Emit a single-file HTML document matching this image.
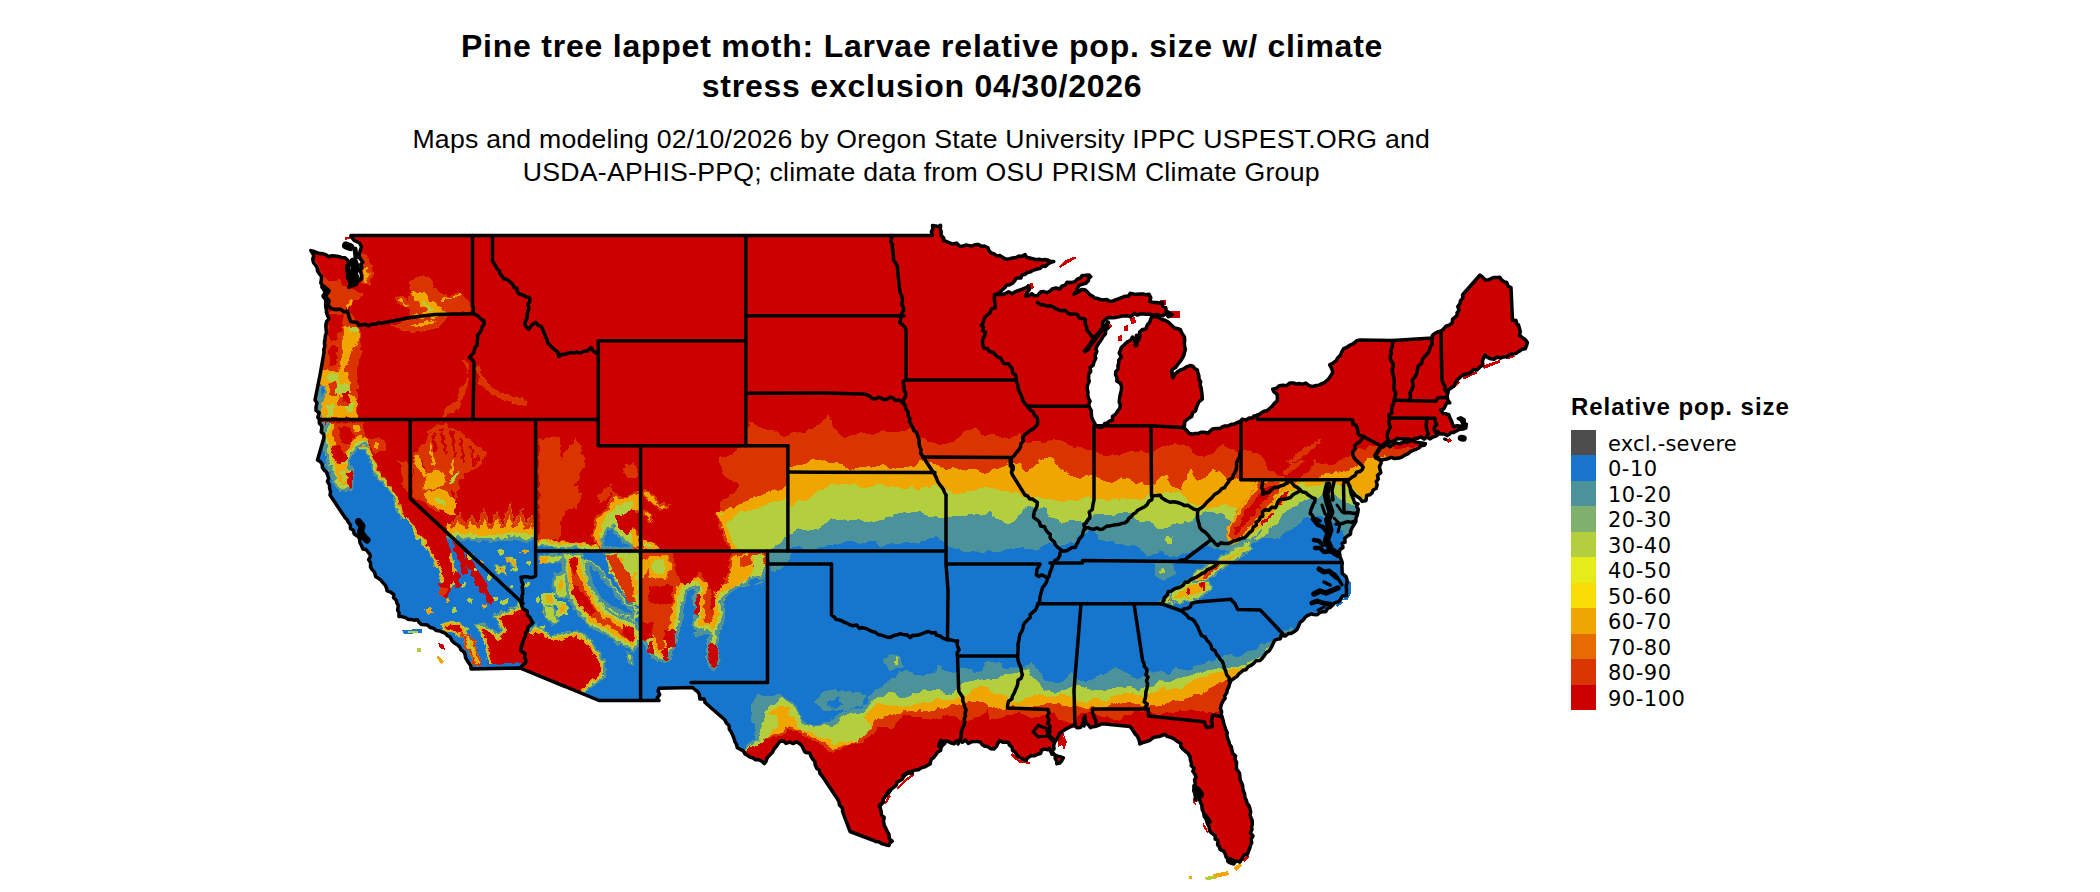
<!DOCTYPE html>
<html lang="en"><head><meta charset="utf-8"><title>Pine tree lappet moth: Larvae relative pop. size</title>
<style>
html,body{margin:0;padding:0;background:#fff}
body{width:2100px;height:892px;position:relative;overflow:hidden;font-family:"Liberation Sans",sans-serif;color:#000}
.t{position:absolute;left:0;width:1842.6px;text-align:center;white-space:nowrap}
.t1{font-weight:bold;font-size:32px;line-height:40px;letter-spacing:0.77px;margin-left:0.8px}
.t2{font-size:26.67px;line-height:34px;letter-spacing:0.235px}
.lt{position:absolute;left:1571px;top:392px;font-weight:bold;font-size:24px;line-height:30px;letter-spacing:0.97px;white-space:nowrap}
.sw{position:absolute;left:1571px;width:25px}
.ll{position:absolute;left:1608px;height:25.4px;line-height:25.4px;font-family:"DejaVu Sans",sans-serif;font-size:21px;letter-spacing:0.5px;white-space:nowrap}
</style></head><body>
<div class="t t1" style="top:25.7px">Pine tree lappet moth: Larvae relative pop. size w/ climate</div>
<div class="t t1" style="top:66px">stress exclusion 04/30/2026</div>
<div class="t t2" style="top:121.7px">Maps and modeling 02/10/2026 by Oregon State University IPPC USPEST.ORG and</div>
<div class="t t2" style="top:154.5px">USDA-APHIS-PPQ; climate data from OSU PRISM Climate Group</div>
<svg width="2100" height="892" viewBox="0 0 2100 892" style="position:absolute;left:0;top:0">
<defs>
<clipPath id="us"><path d="M351.0 235.5 L932.5 235.5 L931.4 231.7 L932.8 228.9 L932.5 225.6 L935.5 225.9 L938.5 226.5 L940.6 225.3 L940.3 229.1 L941.2 231.3 L941.1 235.3 L943.7 238.0 L943.7 240.5 L946.7 241.6 L949.7 242.8 L952.5 244.0 L956.5 243.1 L959.4 246.0 L962.5 246.2 L966.2 245.0 L969.4 245.6 L971.7 246.0 L974.7 244.8 L977.9 244.4 L981.6 246.4 L984.4 246.0 L988.0 247.8 L989.0 250.8 L991.0 253.0 L993.9 253.6 L996.9 256.0 L999.8 255.6 L1003.0 257.5 L1005.8 259.3 L1009.7 258.6 L1012.4 258.0 L1016.1 257.5 L1018.8 256.1 L1021.7 256.4 L1025.1 254.6 L1026.8 257.5 L1030.4 258.1 L1032.8 258.8 L1036.1 259.7 L1039.2 259.2 L1042.0 259.9 L1044.6 259.5 L1048.3 260.3 L1050.6 261.6 L1053.8 261.6 L1051.1 262.2 L1048.0 263.9 L1045.4 266.4 L1042.5 266.1 L1040.1 268.4 L1036.5 269.2 L1033.5 270.1 L1030.7 271.7 L1027.3 272.5 L1024.7 274.5 L1022.0 275.0 L1020.9 278.1 L1016.7 277.9 L1014.5 281.0 L1012.5 283.3 L1009.8 284.7 L1006.4 285.4 L1004.6 287.9 L1002.0 290.0 L999.9 292.4 L998.1 293.5 L994.5 294.8 L997.9 294.4 L1001.5 294.5 L1005.1 293.6 L1008.6 291.8 L1012.2 293.7 L1015.2 291.6 L1018.0 290.6 L1022.4 289.2 L1026.1 287.5 L1028.5 286.1 L1029.4 289.5 L1026.7 293.2 L1025.6 296.0 L1029.1 295.6 L1031.8 293.7 L1034.5 295.8 L1037.7 295.4 L1040.5 292.1 L1043.7 291.6 L1047.2 292.7 L1050.1 290.9 L1052.1 289.0 L1055.9 288.0 L1059.9 289.0 L1061.8 286.2 L1065.2 285.1 L1067.0 282.3 L1071.8 282.4 L1074.9 281.6 L1077.2 279.2 L1080.4 278.0 L1082.3 275.4 L1085.5 275.3 L1089.1 275.0 L1090.7 276.7 L1088.7 278.3 L1088.4 280.8 L1085.6 283.4 L1082.3 284.2 L1079.2 285.4 L1077.9 287.4 L1076.6 290.7 L1074.0 294.3 L1077.0 292.5 L1079.1 291.6 L1081.3 289.4 L1085.0 289.8 L1087.7 292.3 L1089.8 294.7 L1092.8 296.3 L1094.4 297.9 L1097.2 298.3 L1100.4 299.5 L1102.9 299.9 L1106.7 299.4 L1109.3 301.2 L1112.0 301.3 L1115.4 299.9 L1119.0 298.6 L1121.9 297.5 L1125.1 296.2 L1128.4 296.3 L1130.3 293.3 L1133.3 294.0 L1137.0 294.2 L1139.6 294.1 L1143.2 293.9 L1146.0 294.8 L1149.1 294.3 L1150.8 297.8 L1149.6 301.4 L1153.3 302.4 L1156.3 302.4 L1159.8 302.9 L1162.4 302.6 L1162.8 306.3 L1165.8 307.7 L1166.2 310.7 L1169.3 312.9 L1172.2 314.7 L1168.6 316.8 L1165.9 313.5 L1162.7 315.7 L1159.8 315.9 L1157.2 314.6 L1153.3 315.2 L1150.1 314.3 L1146.3 314.2 L1143.9 314.0 L1140.3 313.7 L1137.5 315.1 L1134.2 313.4 L1130.8 316.7 L1127.8 315.8 L1125.4 316.0 L1122.2 316.0 L1118.7 316.9 L1115.5 317.5 L1112.5 317.8 L1108.2 317.4 L1104.8 319.9 L1102.5 322.5 L1102.9 327.8 L1100.5 330.0 L1098.5 332.9 L1096.5 335.2 L1094.2 338.1 L1092.5 339.9 L1090.5 343.1 L1089.4 346.2 L1087.5 348.0 L1085.0 350.9 L1088.5 349.7 L1089.2 345.3 L1091.6 342.9 L1094.6 340.7 L1094.4 336.6 L1098.7 334.6 L1099.6 332.3 L1102.6 330.7 L1104.3 327.0 L1106.3 325.0 L1107.9 322.1 L1106.8 324.5 L1108.0 327.8 L1105.7 330.1 L1105.4 334.0 L1103.0 336.5 L1101.6 339.3 L1099.3 342.4 L1097.6 345.0 L1095.8 348.6 L1096.9 351.6 L1095.0 355.5 L1095.8 358.5 L1094.2 361.5 L1093.0 365.4 L1090.0 367.5 L1090.8 371.4 L1088.7 374.2 L1088.6 378.6 L1089.2 381.4 L1087.4 385.2 L1087.2 388.6 L1088.0 392.2 L1087.8 395.0 L1088.6 398.6 L1090.1 401.2 L1088.6 404.6 L1089.6 407.5 L1091.4 410.8 L1091.3 413.5 L1091.7 417.5 L1093.0 420.4 L1094.3 422.6 L1096.2 426.2 L1100.3 427.3 L1102.9 426.7 L1104.6 423.6 L1107.0 423.2 L1109.4 421.2 L1112.5 420.2 L1112.5 416.4 L1115.7 414.1 L1117.2 411.7 L1119.7 408.3 L1120.4 405.1 L1119.2 402.0 L1119.6 398.4 L1120.0 395.6 L1120.7 392.7 L1121.3 390.3 L1121.7 386.5 L1120.3 383.3 L1116.8 381.1 L1117.0 377.7 L1115.6 374.8 L1115.7 371.9 L1118.1 369.0 L1117.9 365.9 L1118.7 362.9 L1118.8 360.2 L1121.3 357.1 L1119.2 353.0 L1120.3 350.4 L1121.2 347.8 L1123.5 345.6 L1125.8 343.3 L1127.5 341.8 L1130.5 340.4 L1132.4 337.1 L1134.3 339.8 L1136.0 342.5 L1139.0 339.3 L1140.0 335.5 L1139.6 332.1 L1142.7 329.4 L1145.9 328.9 L1147.5 324.7 L1149.7 322.3 L1150.9 318.4 L1152.4 316.0 L1155.8 316.8 L1159.1 317.6 L1161.8 319.5 L1164.8 320.2 L1167.3 321.5 L1169.5 323.1 L1171.9 325.6 L1174.7 328.0 L1178.0 328.7 L1180.4 329.6 L1182.1 333.6 L1184.4 336.8 L1184.7 340.0 L1184.3 343.5 L1184.7 346.6 L1185.4 349.4 L1184.5 352.2 L1184.0 354.7 L1182.9 357.2 L1181.2 360.2 L1179.1 362.7 L1177.5 364.8 L1175.6 367.5 L1173.4 368.7 L1171.5 370.5 L1171.7 373.3 L1172.9 377.8 L1174.6 374.4 L1177.3 372.0 L1180.1 370.1 L1183.7 368.8 L1186.4 366.8 L1190.5 365.4 L1193.2 366.4 L1194.6 368.4 L1197.4 370.1 L1197.8 372.5 L1198.8 375.5 L1199.1 379.2 L1200.7 381.7 L1200.0 384.7 L1201.2 388.1 L1201.6 391.2 L1202.1 395.3 L1202.3 399.2 L1199.1 401.6 L1197.3 405.3 L1196.4 407.7 L1195.6 410.7 L1192.5 412.7 L1191.8 416.5 L1189.7 417.6 L1186.3 420.1 L1184.6 422.1 L1184.5 425.6 L1182.3 427.8 L1184.8 428.5 L1186.9 430.7 L1189.1 433.3 L1192.7 434.2 L1195.2 433.4 L1198.7 433.4 L1201.4 432.2 L1204.3 432.3 L1207.9 433.2 L1209.9 431.3 L1212.4 429.1 L1216.4 428.5 L1219.7 428.6 L1221.8 427.1 L1224.9 425.9 L1228.1 425.9 L1231.5 424.3 L1234.4 424.0 L1236.8 422.7 L1240.3 421.4 L1242.3 419.1 L1246.2 420.0 L1248.9 418.1 L1252.4 418.1 L1254.0 415.9 L1257.5 415.3 L1260.9 413.3 L1264.0 411.3 L1266.7 410.8 L1270.1 408.2 L1272.6 405.7 L1274.4 403.3 L1277.3 400.8 L1277.4 397.3 L1277.0 394.0 L1273.9 391.9 L1272.7 389.2 L1276.5 388.3 L1279.2 385.8 L1282.9 385.3 L1286.6 385.7 L1289.6 383.0 L1293.3 383.0 L1296.4 384.0 L1299.9 383.6 L1302.9 384.2 L1305.8 383.0 L1308.7 385.4 L1312.4 386.6 L1314.6 385.8 L1318.8 385.2 L1321.3 383.9 L1324.9 382.3 L1327.9 379.5 L1329.2 378.1 L1330.9 375.4 L1332.7 372.6 L1331.9 368.9 L1329.7 364.8 L1332.8 363.2 L1336.0 360.9 L1337.6 358.0 L1340.4 355.4 L1341.7 352.0 L1343.7 348.7 L1346.8 347.3 L1349.5 345.4 L1353.5 343.6 L1356.3 340.9 L1360.0 340.0 L1392.5 340.5 L1432.5 338.0 L1432.3 335.5 L1434.6 333.6 L1437.9 331.8 L1440.9 331.3 L1443.5 329.0 L1446.0 326.2 L1449.8 324.8 L1452.2 322.7 L1452.6 319.1 L1454.2 317.8 L1457.1 315.3 L1457.0 312.8 L1459.1 310.3 L1457.8 306.6 L1459.9 303.7 L1460.4 300.8 L1462.9 297.8 L1462.5 295.0 L1480.0 275.0 L1482.6 277.1 L1485.3 279.9 L1488.4 279.8 L1490.6 278.9 L1493.4 277.5 L1497.3 277.6 L1499.8 277.3 L1501.7 280.0 L1504.4 281.9 L1506.8 282.5 L1508.0 286.2 L1511.0 287.5 L1512.5 320.0 L1516.1 320.5 L1516.6 323.9 L1518.5 324.9 L1519.5 328.4 L1520.3 331.6 L1519.5 335.5 L1522.5 337.7 L1525.2 339.4 L1527.4 342.5 L1526.5 345.7 L1525.2 348.8 L1522.0 349.3 L1518.5 351.7 L1516.2 353.4 L1512.7 354.1 L1509.6 354.6 L1507.3 356.4 L1503.8 356.9 L1500.4 358.2 L1497.0 357.0 L1493.9 359.3 L1489.7 358.6 L1486.9 356.9 L1484.9 355.0 L1483.5 358.2 L1482.4 361.1 L1482.9 364.8 L1479.9 367.0 L1476.9 370.1 L1473.4 369.5 L1471.8 371.8 L1468.6 373.6 L1464.8 374.2 L1462.0 375.6 L1459.4 378.1 L1457.4 379.7 L1455.3 382.9 L1454.0 385.7 L1452.0 387.5 L1448.5 389.7 L1448.0 392.5 L1447.1 396.4 L1447.9 400.1 L1449.7 402.8 L1446.8 403.0 L1445.0 406.4 L1443.7 408.8 L1440.9 409.9 L1443.0 413.6 L1445.5 413.7 L1448.8 414.6 L1449.8 417.7 L1451.5 420.8 L1452.3 423.5 L1453.6 426.7 L1457.2 425.7 L1461.1 426.2 L1464.2 424.5 L1464.2 419.8 L1460.7 417.8 L1458.4 418.7 L1460.8 419.7 L1462.8 423.3 L1466.4 424.1 L1465.8 428.0 L1462.7 429.0 L1459.0 429.5 L1456.1 431.1 L1453.6 432.6 L1450.8 432.6 L1449.5 434.0 L1447.2 435.6 L1444.4 433.9 L1440.9 434.1 L1438.6 432.6 L1437.3 431.3 L1438.2 434.3 L1436.4 435.9 L1433.0 437.0 L1430.1 438.9 L1426.7 437.0 L1424.1 439.1 L1421.1 436.8 L1417.4 438.3 L1414.7 438.6 L1411.4 440.2 L1408.0 438.8 L1404.1 438.9 L1400.5 438.7 L1397.4 438.5 L1395.3 440.1 L1392.3 441.4 L1389.3 442.4 L1386.5 442.9 L1384.6 444.2 L1380.9 446.3 L1378.7 448.9 L1377.4 451.6 L1375.0 455.1 L1375.6 458.0 L1378.4 459.2 L1381.2 460.5 L1381.1 463.3 L1379.4 466.6 L1380.2 470.1 L1380.8 472.7 L1377.5 475.4 L1378.3 478.9 L1376.3 481.6 L1377.2 484.8 L1376.1 488.5 L1373.1 490.0 L1372.3 492.6 L1370.0 494.7 L1366.7 495.4 L1366.0 500.5 L1362.2 501.4 L1360.0 498.5 L1357.8 497.0 L1355.4 495.4 L1353.1 492.4 L1351.0 489.8 L1349.9 487.1 L1348.7 484.7 L1348.2 482.5 L1345.7 479.7 L1348.0 482.9 L1350.0 486.3 L1350.4 490.1 L1351.3 494.3 L1352.7 497.3 L1353.9 500.3 L1354.7 502.9 L1358.0 504.0 L1356.5 506.2 L1358.3 509.4 L1357.8 512.1 L1357.2 515.2 L1356.0 518.0 L1355.9 521.4 L1354.2 524.4 L1352.5 526.9 L1350.8 530.4 L1350.5 534.0 L1347.1 536.4 L1344.7 538.3 L1345.1 542.1 L1342.2 543.4 L1343.0 547.5 L1340.2 549.5 L1339.5 551.3 L1338.7 554.0 L1340.0 556.8 L1341.3 559.9 L1342.3 562.8 L1341.9 566.1 L1342.1 570.4 L1342.2 573.4 L1345.8 576.3 L1347.0 579.9 L1347.1 582.7 L1346.0 585.9 L1346.6 589.2 L1346.5 591.9 L1346.4 595.6 L1342.4 596.1 L1341.0 598.9 L1338.8 601.6 L1335.0 602.6 L1333.0 604.8 L1330.4 607.3 L1327.6 608.4 L1325.7 611.7 L1322.5 611.7 L1320.3 612.2 L1317.3 614.8 L1313.5 614.5 L1311.4 613.9 L1308.0 615.3 L1305.3 617.1 L1303.0 620.2 L1300.3 622.1 L1298.7 625.7 L1297.0 629.4 L1294.9 631.3 L1291.0 633.5 L1288.3 633.6 L1285.1 636.0 L1281.1 635.2 L1280.4 638.7 L1276.8 639.3 L1274.5 640.6 L1272.9 644.1 L1271.6 646.9 L1269.3 650.7 L1266.1 652.8 L1264.5 655.4 L1262.0 658.6 L1260.1 660.4 L1255.9 660.8 L1253.7 663.3 L1250.7 665.7 L1248.1 666.7 L1245.9 669.8 L1243.1 670.2 L1241.3 672.0 L1238.6 674.2 L1236.8 676.6 L1234.0 678.4 L1230.8 680.9 L1229.5 684.2 L1228.9 686.6 L1227.2 689.9 L1226.9 692.6 L1224.6 695.9 L1225.1 698.5 L1222.9 701.2 L1221.4 704.3 L1220.4 708.5 L1221.6 711.7 L1221.2 715.0 L1222.3 717.9 L1223.3 720.9 L1223.9 724.0 L1224.8 726.5 L1225.9 730.0 L1227.2 732.8 L1226.9 735.5 L1227.8 739.0 L1228.9 741.4 L1229.5 744.3 L1231.4 747.0 L1231.8 749.7 L1232.8 753.4 L1235.6 756.1 L1234.8 759.2 L1236.6 762.2 L1236.4 765.1 L1236.4 768.6 L1237.9 770.9 L1239.5 773.0 L1239.9 776.4 L1240.0 779.4 L1241.4 782.4 L1242.6 785.1 L1242.8 788.3 L1243.4 791.0 L1244.6 793.8 L1244.9 797.3 L1246.4 800.4 L1247.1 803.4 L1249.0 805.9 L1249.9 808.6 L1250.7 811.9 L1250.0 815.3 L1251.1 818.0 L1252.2 820.4 L1252.3 824.4 L1251.6 827.0 L1252.0 829.6 L1250.3 832.8 L1253.0 836.0 L1251.1 839.4 L1251.7 842.7 L1250.5 845.1 L1249.8 848.1 L1248.4 851.5 L1247.4 854.4 L1244.2 854.9 L1242.2 858.3 L1239.9 862.0 L1237.0 861.1 L1233.1 862.3 L1229.7 862.5 L1228.8 859.7 L1226.2 857.3 L1225.2 854.0 L1223.6 851.1 L1220.0 849.4 L1219.6 847.0 L1217.6 844.8 L1217.8 840.4 L1215.2 839.2 L1215.1 835.6 L1211.6 833.0 L1209.5 830.7 L1209.2 827.2 L1207.7 824.0 L1206.6 821.2 L1206.3 818.2 L1204.2 815.6 L1203.6 812.5 L1202.1 809.2 L1201.8 805.2 L1200.5 802.4 L1199.3 798.6 L1198.9 796.1 L1195.8 793.0 L1196.1 789.6 L1194.8 787.0 L1195.3 783.7 L1194.5 780.1 L1196.1 777.0 L1194.9 774.2 L1192.8 771.3 L1194.2 768.4 L1191.2 765.8 L1191.5 762.8 L1190.4 760.1 L1190.1 756.9 L1188.1 753.5 L1185.8 751.6 L1182.9 749.0 L1180.8 746.5 L1180.9 743.5 L1177.0 741.3 L1175.0 739.5 L1172.9 738.2 L1170.5 737.3 L1167.1 736.4 L1164.8 734.3 L1161.7 735.6 L1158.9 736.6 L1155.4 736.9 L1152.5 738.1 L1150.0 740.3 L1147.1 741.3 L1142.8 742.7 L1139.8 744.0 L1139.3 740.6 L1137.3 736.0 L1135.2 734.2 L1133.8 731.8 L1132.1 729.0 L1130.0 726.5 L1105.0 724.0 L1102.0 723.7 L1098.5 725.4 L1096.2 726.2 L1092.9 726.7 L1090.5 727.7 L1088.5 725.0 L1086.0 723.2 L1085.6 720.6 L1083.6 718.1 L1083.4 721.0 L1082.1 724.9 L1080.4 727.5 L1076.9 727.7 L1074.9 725.0 L1072.3 726.0 L1069.1 727.5 L1066.3 728.8 L1062.8 731.1 L1059.5 733.3 L1058.2 736.5 L1056.5 739.8 L1054.7 742.2 L1053.6 745.7 L1054.1 748.8 L1051.7 751.5 L1051.6 754.0 L1054.4 754.7 L1057.6 756.1 L1060.2 756.7 L1063.3 757.9 L1061.9 760.5 L1059.7 763.1 L1056.6 763.7 L1056.9 761.4 L1055.2 758.6 L1055.2 755.2 L1053.2 753.1 L1051.0 752.0 L1049.6 748.4 L1047.9 749.8 L1044.3 749.1 L1041.5 750.2 L1040.7 753.3 L1037.0 754.5 L1034.6 755.8 L1031.2 755.6 L1027.9 757.7 L1026.1 760.4 L1023.2 759.1 L1019.9 757.6 L1017.2 755.5 L1015.1 752.0 L1012.6 750.5 L1012.1 747.3 L1009.3 744.9 L1008.4 742.4 L1004.9 741.9 L1002.6 742.2 L999.8 740.6 L997.9 743.2 L996.6 746.1 L994.2 748.9 L990.9 748.7 L987.8 746.6 L984.8 746.2 L982.3 744.7 L980.5 742.3 L978.2 741.4 L974.9 741.6 L971.8 741.7 L968.3 743.5 L965.5 740.0 L962.3 742.3 L959.3 740.6 L956.2 741.2 L954.0 743.8 L951.5 743.1 L948.1 741.4 L944.3 741.0 L943.4 744.5 L941.4 746.7 L940.5 750.5 L937.5 752.2 L935.9 754.6 L933.7 757.5 L931.0 759.5 L930.2 763.9 L927.6 765.3 L924.8 766.9 L921.2 767.8 L918.4 769.8 L915.4 770.0 L912.4 771.2 L910.5 772.7 L906.8 772.9 L904.0 776.0 L902.4 779.2 L899.7 780.7 L897.3 781.9 L895.9 785.7 L893.4 787.5 L890.8 789.7 L889.1 792.5 L887.0 794.7 L884.8 797.1 L883.0 799.4 L883.3 802.4 L880.1 804.7 L880.1 807.4 L881.1 811.2 L881.6 815.1 L884.2 817.5 L883.5 821.0 L884.2 825.3 L885.8 828.2 L887.1 831.1 L889.0 834.3 L889.4 838.8 L892.2 841.2 L889.7 843.1 L889.1 845.4 L886.1 844.9 L882.3 843.9 L878.7 841.7 L875.5 841.4 L872.5 840.0 L850.0 831.5 L842.5 811.5 L842.6 808.2 L839.4 805.0 L839.1 802.3 L837.5 799.0 L822.5 776.5 L820.0 773.6 L819.3 770.1 L816.9 768.6 L815.1 764.7 L814.9 761.7 L812.7 759.2 L810.9 756.4 L810.1 753.3 L805.1 752.2 L803.6 749.6 L802.4 746.6 L800.2 744.1 L796.3 741.7 L793.4 743.6 L789.8 742.1 L785.9 743.4 L783.6 741.0 L780.2 741.2 L777.5 744.5 L776.3 746.5 L773.8 749.2 L772.7 752.1 L769.8 755.1 L767.2 757.8 L766.0 761.4 L764.3 763.6 L761.9 761.2 L758.7 759.6 L755.2 759.7 L753.1 758.0 L750.0 757.1 L747.3 755.2 L745.1 754.0 L743.1 750.7 L740.2 749.3 L737.3 747.8 L736.6 744.6 L734.9 741.7 L733.9 738.1 L732.6 735.0 L731.0 731.5 L729.4 729.5 L729.0 725.6 L726.3 723.0 L725.0 720.0 L705.0 702.5 L704.2 699.1 L699.9 699.1 L699.3 694.2 L697.6 691.4 L695.4 690.0 L692.5 687.5 L659.0 688.3 L658.1 690.9 L659.7 694.6 L657.2 697.9 L659.0 700.5 L599.0 700.5 L520.0 668.0 L471.0 669.0 L470.9 666.1 L469.0 663.2 L467.1 660.4 L465.5 657.6 L465.0 654.1 L463.9 651.9 L460.9 649.8 L459.9 647.3 L457.6 645.1 L454.6 643.1 L452.0 640.7 L450.0 637.0 L447.2 635.5 L445.5 633.3 L442.4 632.2 L440.0 631.0 L436.1 630.5 L433.6 628.3 L430.2 627.5 L427.5 624.9 L425.5 624.8 L421.7 624.6 L419.2 622.5 L417.4 619.8 L414.4 620.3 L411.2 619.4 L408.5 619.6 L405.6 617.6 L401.7 616.6 L398.9 616.4 L399.1 612.8 L397.6 610.1 L398.4 605.6 L397.0 603.3 L396.3 600.3 L393.5 597.8 L393.8 594.6 L390.8 592.1 L387.1 590.9 L386.6 588.4 L385.4 585.3 L382.7 582.3 L380.9 580.1 L377.6 577.8 L375.6 576.5 L374.5 572.1 L372.4 569.9 L370.5 567.1 L370.6 562.9 L368.6 559.6 L370.1 557.2 L370.2 555.0 L368.4 552.5 L365.9 549.4 L362.8 548.9 L361.5 545.5 L360.0 542.8 L359.5 539.0 L358.1 536.5 L354.2 534.0 L353.4 530.2 L350.5 528.7 L350.3 524.6 L348.2 522.2 L347.4 520.0 L345.0 517.5 L330.0 495.0 L330.6 491.7 L329.6 488.2 L329.5 484.9 L327.4 481.4 L328.7 478.4 L327.6 475.0 L326.4 471.9 L324.3 470.3 L322.4 467.5 L322.2 464.4 L320.5 461.8 L317.5 460.0 L324.0 437.5 L323.7 434.2 L321.2 431.9 L321.8 428.1 L321.5 425.6 L319.4 423.4 L319.3 419.6 L317.8 417.3 L319.2 412.8 L316.0 410.4 L316.0 407.2 L317.0 402.7 L315.0 400.0 L320.0 375.0 L324.0 352.5 L323.8 349.6 L324.8 346.2 L324.4 342.4 L325.0 338.8 L325.4 335.7 L326.4 332.9 L326.0 328.4 L325.8 325.2 L326.5 321.7 L328.9 318.9 L327.2 314.5 L326.4 312.4 L326.4 309.3 L325.6 306.0 L325.7 302.9 L326.2 299.2 L325.6 295.4 L325.4 292.6 L323.6 289.4 L322.8 286.1 L320.8 283.0 L321.3 279.8 L321.5 276.5 L319.1 273.4 L317.6 271.1 L317.0 267.4 L315.4 265.0 L313.5 262.7 L312.7 259.0 L313.8 255.9 L312.9 253.9 L310.9 250.6 L314.0 251.5 L316.1 252.3 L319.3 253.5 L321.6 253.5 L325.4 254.4 L328.7 256.7 L332.1 255.8 L335.0 256.1 L338.4 256.4 L341.5 257.4 L345.0 257.7 L347.2 259.8 L348.6 262.0 L349.2 265.0 L346.7 266.6 L346.8 269.8 L348.3 273.5 L347.4 277.7 L350.4 280.4 L350.6 284.3 L349.0 287.5 L352.3 284.7 L356.1 284.4 L357.9 281.1 L361.5 279.0 L361.5 275.3 L360.9 272.6 L360.0 270.0 L361.8 267.8 L360.7 264.5 L362.8 262.3 L360.5 259.0 L359.0 257.3 L359.5 253.9 L360.3 250.3 L361.5 246.8 L359.5 243.0 L356.9 241.7 L354.2 240.5 L351.3 236.9Z"/>
<path d="M1381.4 447.2 L1383.6 446.7 L1386.6 444.1 L1390.0 446.8 L1392.2 444.7 L1395.9 442.9 L1399.2 443.8 L1401.6 443.0 L1404.3 441.6 L1407.3 442.2 L1410.0 440.7 L1412.9 440.8 L1416.6 442.1 L1419.5 442.8 L1423.0 443.1 L1425.5 443.7 L1424.4 445.2 L1420.9 445.7 L1419.3 447.7 L1416.1 449.3 L1413.6 450.2 L1410.2 451.7 L1408.3 453.6 L1404.7 455.2 L1402.3 456.8 L1398.9 458.1 L1394.6 458.5 L1391.1 457.4 L1387.0 459.1 L1383.8 459.5 L1380.2 460.5 L1378.0 457.5 L1375.5 456.2 L1377.2 453.0 L1379.1 449.8Z"/>
</clipPath>
<clipPath id="c1"><path d="M1256.7 479.2 L1252.2 491.7 L1245.9 498.9 L1237.8 509.7 L1232.5 520.4 L1228.0 527.6 L1226.2 535.7 L1232.5 545.6 L1243.2 538.4 L1251.3 529.4 L1260.3 518.7 L1269.2 507.9 L1276.4 498.9 L1281.8 489.1 L1284.5 479.2Z"/></clipPath>
<clipPath id="c2"><path d="M1250.0 538.8 L1225.0 553.8 L1210.0 562.0 L1195.0 572.0 L1180.0 584.5 L1165.0 597.0 L1157.5 603.8 L1172.5 604.5 L1187.5 596.2 L1205.0 583.8 L1220.0 571.2 L1235.0 561.2 L1253.0 550.0Z"/></clipPath>
<clipPath id="c3"><path d="M1169.5 591.8 L1180.4 585.9 L1191.4 580.0 L1209.0 580.0 L1214.1 586.7 L1204.0 595.1 L1193.9 601.0 L1180.4 603.5 L1170.4 601.0Z"/></clipPath>
<clipPath id="c4"><path d="M884.3 657.5 L894.5 653.8 L902.5 658.9 L900.3 667.7 L891.6 670.6 L885.0 665.5Z"/></clipPath>
<clipPath id="c5"><path d="M300.0 424.0 L325.0 424.0 L330.0 439.0 L334.0 454.0 L343.0 468.0 L349.0 483.0 L353.0 490.0 L353.0 473.0 L349.0 461.0 L357.0 448.0 L360.0 445.0 L369.0 446.0 L373.5 458.0 L378.0 471.0 L386.6 481.4 L395.3 493.0 L400.0 505.0 L405.5 518.0 L425.0 524.0 L440.0 522.0 L448.0 515.0 L453.0 524.0 L459.0 512.0 L465.0 525.0 L472.0 515.0 L478.0 526.0 L484.0 508.0 L490.0 526.0 L497.0 511.0 L503.0 525.0 L509.0 502.0 L515.0 524.0 L521.0 509.0 L527.0 526.0 L531.0 515.0 L535.6 526.0 L536.0 539.0 L550.0 541.0 L566.0 542.0 L580.0 543.0 L600.0 546.0 L620.0 546.0 L642.0 547.0 L642.0 706.0 L599.0 706.0 L520.0 674.0 L470.0 674.0 L440.0 650.0 L395.0 628.0 L380.0 600.0 L360.0 570.0 L340.0 520.0 L315.0 470.0Z"/></clipPath>
<clipPath id="c6"><path d="M300.0 424.0 L325.0 424.0 L330.0 439.0 L334.0 454.0 L343.0 468.0 L349.0 483.0 L353.0 490.0 L353.0 473.0 L349.0 461.0 L357.0 448.0 L360.0 445.0 L369.0 446.0 L373.5 458.0 L378.0 471.0 L386.6 481.4 L395.3 493.0 L400.0 505.0 L405.5 518.0 L425.0 524.0 L440.0 522.0 L448.0 515.0 L453.0 524.0 L459.0 512.0 L465.0 525.0 L472.0 515.0 L478.0 526.0 L484.0 508.0 L490.0 526.0 L497.0 511.0 L503.0 525.0 L509.0 502.0 L515.0 524.0 L521.0 509.0 L527.0 526.0 L531.0 515.0 L535.6 526.0 L536.0 539.0 L550.0 541.0 L566.0 542.0 L580.0 543.0 L600.0 546.0 L620.0 546.0 L642.0 547.0 L642.0 706.0 L599.0 706.0 L520.0 674.0 L470.0 674.0 L440.0 650.0 L395.0 628.0 L380.0 600.0 L360.0 570.0 L340.0 520.0 L315.0 470.0Z"/></clipPath>
<clipPath id="c7"><path d="M300.0 424.0 L325.0 424.0 L330.0 439.0 L334.0 454.0 L343.0 468.0 L349.0 483.0 L353.0 490.0 L353.0 473.0 L349.0 461.0 L357.0 448.0 L360.0 445.0 L369.0 446.0 L373.5 458.0 L378.0 471.0 L386.6 481.4 L395.3 493.0 L400.0 505.0 L405.5 518.0 L425.0 524.0 L440.0 522.0 L448.0 515.0 L453.0 524.0 L459.0 512.0 L465.0 525.0 L472.0 515.0 L478.0 526.0 L484.0 508.0 L490.0 526.0 L497.0 511.0 L503.0 525.0 L509.0 502.0 L515.0 524.0 L521.0 509.0 L527.0 526.0 L531.0 515.0 L535.6 526.0 L536.0 539.0 L550.0 541.0 L566.0 542.0 L580.0 543.0 L600.0 546.0 L620.0 546.0 L642.0 547.0 L642.0 706.0 L599.0 706.0 L520.0 674.0 L470.0 674.0 L440.0 650.0 L395.0 628.0 L380.0 600.0 L360.0 570.0 L340.0 520.0 L315.0 470.0Z"/></clipPath>
<clipPath id="c8"><path d="M300.0 424.0 L325.0 424.0 L330.0 439.0 L334.0 454.0 L343.0 468.0 L349.0 483.0 L353.0 490.0 L353.0 473.0 L349.0 461.0 L357.0 448.0 L360.0 445.0 L369.0 446.0 L373.5 458.0 L378.0 471.0 L386.6 481.4 L395.3 493.0 L400.0 505.0 L405.5 518.0 L425.0 524.0 L440.0 522.0 L448.0 515.0 L453.0 524.0 L459.0 512.0 L465.0 525.0 L472.0 515.0 L478.0 526.0 L484.0 508.0 L490.0 526.0 L497.0 511.0 L503.0 525.0 L509.0 502.0 L515.0 524.0 L521.0 509.0 L527.0 526.0 L531.0 515.0 L535.6 526.0 L536.0 539.0 L550.0 541.0 L566.0 542.0 L580.0 543.0 L600.0 546.0 L620.0 546.0 L642.0 547.0 L642.0 706.0 L599.0 706.0 L520.0 674.0 L470.0 674.0 L440.0 650.0 L395.0 628.0 L380.0 600.0 L360.0 570.0 L340.0 520.0 L315.0 470.0Z"/></clipPath>
<clipPath id="c9"><path d="M400.0 500.0 L405.5 518.0 L413.0 529.5 L416.0 537.0 L424.0 545.0 L431.0 557.0 L437.0 567.0 L441.0 580.0 L443.0 595.0 L450.0 591.0 L456.0 580.0 L455.0 565.0 L452.0 553.0 L447.0 537.0 L445.0 531.0 L452.0 520.0 L440.0 505.0Z"/></clipPath>
<clipPath id="c10"><path d="M494.1 564.6 L505.3 566.9 L506.4 574.7 L498.6 573.6Z"/></clipPath>
<clipPath id="c11"><path d="M509.8 556.8 L516.5 557.9 L516.1 566.9 L510.9 565.7Z"/></clipPath>
<clipPath id="c12"><path d="M439.1 624.2 L454.2 620.8 L460.9 624.2 L467.7 630.9 L460.9 637.7 L454.2 634.3 L444.1 630.9Z"/></clipPath>
<clipPath id="c13"><path d="M492.9 614.1 L508.0 610.8 L518.1 604.0 L521.8 600.3 L530.3 624.2 L524.9 639.4 L521.8 651.1 L525.7 662.9 L487.9 665.6 L484.5 651.1 L481.1 637.7 L477.8 630.9 L474.4 624.2 L481.1 624.2 L491.2 627.6 L498.0 634.3 L503.0 630.9 L494.6 620.8Z"/></clipPath>
<clipPath id="c14"><path d="M460.9 630.9 L471.0 634.3 L477.8 647.8 L481.1 664.6 L474.4 666.3 L469.4 654.5 L464.3 644.4Z"/></clipPath>
<clipPath id="c15"><path d="M517.6 669.5 L527.1 654.3 L521.4 646.7 L529.0 631.4 L534.8 623.8 L544.3 629.5 L551.9 635.2 L567.1 631.4 L578.6 631.4 L590.0 639.0 L597.6 650.5 L605.2 661.9 L605.2 677.1 L593.8 684.8 L586.2 692.4 L581.4 700.0 L517.6 673.3Z"/></clipPath>
<clipPath id="c16"><path d="M563.3 553.3 L583.3 553.3 L587.1 571.4 L592.9 586.7 L599.5 599.4 L609.0 610.5 L623.3 618.1 L636.7 621.9 L643.3 639.0 L633.8 651.4 L617.6 643.8 L605.2 634.3 L591.9 628.6 L580.5 616.2 L570.0 601.9 L564.3 584.8 L562.4 568.6Z"/></clipPath>
<clipPath id="c17"><path d="M583.3 558.1 L599.5 566.7 L611.9 582.9 L623.3 598.1 L637.6 609.5 L635.7 621.0 L615.7 614.3 L599.5 603.8 L590.0 588.6 L584.3 575.2Z"/></clipPath>
<clipPath id="c18"><path d="M605.2 553.0 L641.4 553.0 L641.4 604.8 L633.8 605.7 L624.3 595.2 L616.7 581.9 L609.0 568.6Z"/></clipPath>
<clipPath id="c19"><path d="M552.9 573.3 L565.2 572.4 L569.0 583.8 L567.1 597.1 L557.6 599.0 L552.9 589.5Z"/></clipPath>
<clipPath id="c20"><path d="M538.6 554.3 L565.2 554.3 L563.3 561.0 L551.9 564.8 L540.5 562.9Z"/></clipPath>
<clipPath id="c21"><path d="M542.4 602.9 L553.8 606.7 L559.5 621.9 L551.9 625.7 L544.3 616.2Z"/></clipPath>
<clipPath id="c22"><path d="M624.3 650.5 L631.9 654.3 L633.8 663.8 L627.1 661.9Z"/></clipPath>
<clipPath id="c23"><path d="M639.5 550.5 L768.3 550.5 L768.3 564.8 L763.4 578.1 L752.0 579.1 L744.3 585.7 L729.1 593.4 L723.4 601.0 L725.3 616.2 L719.6 629.6 L717.7 646.7 L719.6 663.9 L711.9 669.6 L706.2 662.0 L706.2 644.8 L710.0 635.3 L702.4 631.5 L696.7 639.1 L694.8 629.6 L691.0 623.8 L694.8 616.2 L692.9 597.2 L696.7 587.6 L687.2 591.4 L683.4 606.7 L681.4 623.8 L677.6 635.3 L673.8 648.6 L668.1 662.0 L658.6 662.0 L649.1 654.3 L645.2 642.9 L639.5 641.0Z"/></clipPath>
<clipPath id="c24"><path d="M648.1 556.2 L668.1 555.2 L671.0 568.6 L664.3 580.0 L651.0 578.1 L647.1 566.7Z"/></clipPath>
<clipPath id="c25"><path d="M612.5 490.7 L619.2 497.5 L632.7 494.1 L641.1 490.4 L641.1 508.4 L632.7 517.7 L632.7 527.7 L641.1 534.5 L641.1 549.6 L599.0 549.6 L592.3 537.8 L595.6 517.7 L605.7 507.6 L610.8 500.8Z"/></clipPath>
<clipPath id="c26"><path d="M604.1 531.1 L612.5 524.4 L616.7 531.1 L625.9 541.2 L632.7 544.6 L632.7 549.6 L600.7 549.6 L600.7 539.5Z"/></clipPath>
<clipPath id="c27"><path d="M642.7 490.7 L647.8 489.9 L654.5 495.8 L659.6 504.2 L670.5 505.0 L669.7 508.4 L659.6 509.6 L649.5 501.7 L642.7 496.1Z"/></clipPath>
<clipPath id="c28"><path d="M642.7 508.4 L649.5 512.6 L652.8 521.0 L649.5 522.7 L643.6 516.0Z"/></clipPath>
<clipPath id="c29"><path d="M642.7 540.4 L654.5 542.9 L659.6 549.6 L642.7 549.6Z"/></clipPath>
<clipPath id="c30"><path d="M713.4 514.3 L720.1 510.9 L725.0 510.9 L725.0 521.0 L720.1 519.3Z"/></clipPath>
<clipPath id="c31"><path d="M425.4 474.6 L436.4 468.4 L445.8 471.5 L447.4 480.9 L441.1 488.8 L430.1 491.9 L420.7 490.3 L423.8 482.5Z"/></clipPath>
<clipPath id="c32"><path d="M326.9 422.4 L363.3 422.4 L369.1 446.4 L360.4 445.0 L348.7 461.0 L353.1 472.7 L353.1 488.7 L341.4 491.6 L334.1 485.8 L329.0 468.3 L324.7 452.3 L323.2 436.2Z"/></clipPath>
<clipPath id="c33"><path d="M343.7 324.8 L358.3 327.7 L361.2 337.9 L353.9 348.1 L349.6 361.2 L343.7 372.9 L339.4 381.6 L333.5 378.7 L339.4 364.1 L340.8 349.6 L342.3 336.4Z"/></clipPath>
<clipPath id="c34"><path d="M390.4 327.0 L410.8 320.4 L431.2 315.3 L446.5 316.3 L440.7 325.1 L431.2 329.4 L413.7 332.4 L399.1 329.4Z"/></clipPath>
<clipPath id="c35"><path d="M474.5 365.0 L478.0 364.5 L483.8 377.5 L492.5 388.0 L506.2 395.0 L521.2 398.0 L527.5 402.0 L526.2 406.2 L518.8 403.8 L503.8 400.5 L488.8 393.0 L478.8 382.0Z"/></clipPath>
<clipPath id="c36"><path d="M363.0 265.6 L368.6 266.1 L369.7 275.1 L367.3 284.1 L363.3 283.5Z"/></clipPath>
<clipPath id="c37"><path d="M410.4 291.3 L425.6 292.1 L428.9 299.7 L436.8 304.2 L445.7 311.5 L432.3 312.6 L423.3 306.5 L414.3 299.7Z"/></clipPath>
<filter id="rg" x="-5%" y="-5%" width="110%" height="110%" filterUnits="objectBoundingBox"><feTurbulence type="fractalNoise" baseFrequency="0.09" numOctaves="2" seed="7" result="n"/><feDisplacementMap in="SourceGraphic" in2="n" scale="9" xChannelSelector="R" yChannelSelector="G"/></filter>
<filter id="rg2" x="-5%" y="-5%" width="110%" height="110%" filterUnits="objectBoundingBox"><feTurbulence type="fractalNoise" baseFrequency="0.16" numOctaves="2" seed="3" result="n"/><feDisplacementMap in="SourceGraphic" in2="n" scale="7" xChannelSelector="R" yChannelSelector="G"/></filter>
</defs>
<g clip-path="url(#us)" shape-rendering="crispEdges">
<rect x="290" y="215" width="1260" height="675" fill="#CD0000"/>
<g filter="url(#rg)">
<path d="M720.0 458.0 L733.0 453.0 L746.0 447.0 L749.0 423.3 L766.9 428.7 L784.9 434.0 L799.2 432.3 L815.4 430.5 L827.9 414.4 L833.3 426.9 L844.0 435.9 L865.6 434.0 L883.5 432.3 L901.5 431.4 L912.2 428.7 L919.4 435.9 L937.4 444.9 L951.7 443.0 L964.3 430.5 L973.2 429.6 L991.2 435.9 L1009.1 437.7 L1019.9 434.1 L1027.0 441.3 L1045.0 443.0 L1054.0 437.7 L1071.9 444.9 L1080.0 446.9 L1097.9 454.1 L1115.9 455.9 L1133.8 450.5 L1151.7 451.4 L1160.7 448.7 L1173.3 443.3 L1187.6 445.1 L1194.8 455.9 L1205.6 457.7 L1216.3 448.7 L1223.5 443.3 L1232.5 450.5 L1239.6 455.9 L1245.0 450.5 L1259.4 455.9 L1268.3 468.0 L1277.3 476.0 L1285.0 479.0 L1300.0 478.0 L1310.0 470.0 L1313.0 461.0 L1331.0 465.0 L1349.0 456.0 L1359.8 448.0 L1374.2 446.9 L1384.9 445.1 L1400.0 447.0 L1440.0 446.0 L1480.0 446.0 L1560.0 425.0 L1560.0 708.0 L1240.0 708.0 L1223.2 709.9 L1215.9 711.4 L1205.7 712.9 L1194.0 709.9 L1179.4 711.4 L1164.9 712.9 L1153.2 714.3 L1143.0 711.4 L1129.9 712.9 L1121.2 718.7 L1106.6 717.2 L1092.0 714.3 L1080.4 712.9 L1071.6 723.1 L1062.9 721.6 L1055.6 712.9 L1048.3 715.8 L1033.7 717.2 L1019.1 714.3 L1004.6 715.8 L990.0 718.7 L987.7 709.9 L973.2 718.7 L965.9 721.6 L958.6 717.2 L944.0 714.3 L929.5 718.7 L914.9 715.8 L901.8 717.2 L893.0 727.4 L878.4 724.5 L874.1 733.3 L863.9 740.6 L850.8 744.9 L833.3 750.8 L815.8 742.0 L801.2 733.3 L788.1 730.4 L782.3 734.7 L769.1 737.6 L754.6 744.5 L745.0 746.0 L735.0 750.0 L700.0 760.0 L690.0 600.0 L728.0 553.0 L724.0 535.0 L719.0 520.0 L720.0 512.0 L722.0 500.0 L735.0 492.0 L738.0 485.0 L728.0 478.0 L721.0 470.0Z" fill="#DA3602"/>
<path d="M722.0 512.0 L735.0 507.0 L745.0 502.0 L757.0 497.0 L770.0 492.0 L783.0 488.0 L788.0 478.0 L790.2 468.2 L802.8 461.9 L820.7 460.1 L838.7 464.6 L856.6 469.1 L874.5 465.5 L892.5 469.1 L910.4 466.4 L919.4 461.0 L933.8 463.7 L946.3 470.0 L964.3 468.2 L982.2 471.8 L1000.1 468.2 L1009.1 462.8 L1018.1 462.8 L1027.0 471.8 L1041.4 461.0 L1050.4 457.4 L1059.3 468.2 L1071.9 475.4 L1080.0 479.2 L1090.8 473.8 L1103.3 481.0 L1112.3 482.8 L1121.3 477.4 L1133.8 481.0 L1144.6 482.8 L1151.7 486.4 L1158.9 479.2 L1166.1 475.6 L1173.3 484.6 L1180.4 490.0 L1187.6 473.8 L1191.2 470.2 L1196.6 481.0 L1205.6 479.2 L1210.9 470.2 L1219.9 473.8 L1228.9 481.0 L1236.0 479.2 L1245.0 481.0 L1262.0 482.0 L1280.0 484.0 L1300.0 481.0 L1318.0 476.0 L1335.0 473.0 L1350.0 470.0 L1362.0 462.0 L1372.0 458.0 L1385.0 456.0 L1400.0 458.0 L1560.0 458.0 L1560.0 676.0 L1240.0 676.0 L1226.1 679.3 L1217.3 682.3 L1208.6 688.1 L1201.3 695.4 L1186.7 698.3 L1172.2 701.2 L1157.6 705.6 L1147.4 704.1 L1135.7 704.1 L1125.5 702.7 L1116.8 701.2 L1106.6 705.6 L1094.9 707.0 L1084.7 708.5 L1073.1 705.6 L1062.9 702.7 L1048.3 702.7 L1041.0 704.1 L1026.4 710.0 L1011.9 707.0 L998.7 708.5 L990.0 710.0 L980.5 702.7 L970.3 701.2 L961.5 708.5 L951.3 705.6 L944.0 708.5 L929.5 711.4 L914.9 709.9 L901.8 712.9 L893.0 715.8 L878.4 718.7 L871.2 727.4 L863.9 736.2 L850.8 743.5 L833.3 747.8 L815.8 739.1 L801.2 730.4 L789.5 727.4 L783.7 731.8 L772.1 734.7 L762.0 739.5 L757.0 744.0 L705.0 760.0 L697.0 600.0 L730.0 553.0 L726.0 535.0 L721.0 520.0Z" fill="#EFA603"/>
<path d="M736.0 548.0 L731.0 535.0 L726.0 522.0 L735.0 514.0 L750.0 509.0 L765.0 505.0 L780.0 500.0 L787.0 499.0 L790.2 506.0 L799.2 500.5 L811.8 496.9 L826.1 487.9 L833.3 482.5 L847.6 483.4 L865.6 487.9 L883.5 485.2 L901.5 487.9 L919.4 488.8 L933.8 486.1 L942.7 489.7 L955.3 493.3 L973.2 489.7 L991.2 487.9 L1000.1 491.5 L1018.1 493.3 L1027.0 496.9 L1045.0 498.7 L1062.9 501.4 L1080.9 500.5 L1090.8 495.3 L1097.9 498.9 L1115.9 500.7 L1130.2 497.1 L1141.0 500.7 L1151.7 491.7 L1160.7 491.7 L1169.7 493.5 L1180.4 495.3 L1187.6 500.7 L1196.6 504.3 L1205.6 507.9 L1216.3 506.1 L1223.5 504.3 L1232.5 507.9 L1240.0 512.0 L1262.0 505.0 L1282.0 495.0 L1300.0 487.0 L1320.0 484.0 L1342.0 484.0 L1352.0 488.0 L1362.0 497.0 L1380.0 500.0 L1560.0 500.0 L1560.0 661.0 L1258.0 661.0 L1245.0 668.0 L1230.5 670.6 L1215.9 673.5 L1201.3 676.4 L1194.0 680.8 L1179.4 688.1 L1164.9 689.5 L1150.3 695.4 L1144.5 698.3 L1132.8 691.0 L1121.2 695.4 L1106.6 699.7 L1094.9 698.3 L1084.7 702.7 L1073.1 699.7 L1062.9 695.4 L1048.3 698.3 L1038.1 693.9 L1027.9 698.3 L1013.3 702.7 L1004.6 695.4 L990.0 691.0 L987.7 686.6 L973.2 688.1 L965.9 695.4 L958.6 698.3 L944.0 699.7 L929.5 701.2 L914.9 704.1 L900.3 708.5 L893.0 704.1 L878.4 702.7 L871.2 709.9 L863.9 718.7 L871.2 724.5 L868.2 733.3 L856.6 740.6 L842.0 742.0 L833.3 744.9 L815.8 734.7 L801.2 728.9 L798.3 726.0 L794.0 719.0 L788.1 708.5 L777.0 705.0 L770.0 713.0 L776.0 716.0 L780.0 726.0 L772.0 730.0 L768.0 735.0 L765.0 742.0 L710.0 760.0 L702.0 600.0 L736.0 553.0Z" fill="#B4CF3E"/>
<path d="M745.0 553.0 L760.0 553.0 L770.0 550.0 L780.0 543.0 L788.4 534.6 L799.2 527.4 L811.8 529.2 L826.1 525.6 L829.7 519.3 L847.6 518.4 L865.6 522.0 L883.5 520.2 L901.5 514.8 L919.4 512.1 L937.4 516.6 L955.3 516.6 L973.2 514.8 L991.2 512.1 L1000.1 518.4 L1009.1 525.6 L1019.9 514.8 L1027.0 505.8 L1045.0 507.6 L1050.4 518.4 L1062.9 522.0 L1080.9 520.2 L1090.8 516.9 L1103.3 515.1 L1115.9 516.9 L1126.6 513.3 L1133.8 515.1 L1139.2 520.4 L1151.7 524.0 L1158.9 527.6 L1169.7 525.8 L1180.4 524.0 L1191.2 522.2 L1196.6 516.9 L1203.8 513.3 L1216.3 511.5 L1223.5 513.3 L1230.0 520.0 L1238.0 532.0 L1250.0 540.0 L1262.0 530.0 L1277.0 520.0 L1290.0 508.0 L1305.0 500.0 L1318.0 497.0 L1335.0 496.0 L1345.0 503.0 L1360.0 505.0 L1560.0 505.0 L1560.0 640.0 L1280.0 640.0 L1262.0 655.0 L1245.0 664.8 L1230.5 667.7 L1215.9 669.1 L1201.3 672.1 L1186.7 676.4 L1172.2 680.8 L1157.6 683.7 L1147.4 686.6 L1135.7 688.1 L1121.2 686.6 L1106.6 689.5 L1094.9 691.0 L1084.7 688.1 L1074.5 685.2 L1065.8 689.5 L1055.6 693.9 L1041.0 688.1 L1033.7 679.3 L1027.9 669.1 L1016.2 673.5 L1004.6 676.4 L987.7 679.3 L973.2 682.3 L963.0 682.3 L958.6 689.5 L946.9 693.9 L936.7 689.5 L926.5 688.1 L912.0 695.4 L900.3 698.3 L893.0 692.5 L878.4 695.4 L871.2 701.2 L863.9 711.4 L850.8 714.3 L842.0 718.7 L833.3 727.4 L821.6 727.4 L808.5 726.0 L801.2 721.6 L793.9 708.5 L783.7 698.3 L773.5 702.7 L764.8 711.4 L762.0 725.0 L761.0 741.0 L715.0 760.0 L705.0 600.0 L740.0 556.0Z" fill="#4B929B"/>
<path d="M768.0 575.0 L775.0 570.0 L785.0 566.0 L791.0 558.0 L789.0 549.0 L800.0 547.0 L811.8 548.9 L826.1 548.0 L840.5 541.7 L865.6 542.6 L883.5 544.4 L901.5 543.5 L919.4 541.7 L937.4 538.1 L942.7 541.7 L955.3 548.9 L964.3 554.3 L982.2 550.7 L1000.1 552.5 L1018.1 547.1 L1036.0 548.0 L1054.0 543.5 L1062.9 545.3 L1075.5 541.7 L1080.0 534.8 L1089.0 531.2 L1097.9 536.6 L1106.9 542.0 L1115.9 543.8 L1133.8 545.6 L1142.8 552.7 L1151.7 554.5 L1160.7 552.7 L1169.7 556.3 L1180.4 556.3 L1187.6 552.7 L1196.0 548.0 L1205.0 545.0 L1215.0 548.0 L1228.0 552.0 L1245.0 548.0 L1262.0 540.0 L1277.3 536.6 L1286.3 531.2 L1295.2 527.6 L1304.2 520.4 L1318.6 516.9 L1330.0 520.0 L1340.0 530.0 L1350.0 545.0 L1365.0 548.0 L1560.0 548.0 L1560.0 628.0 L1290.0 628.0 L1270.0 640.0 L1250.0 651.7 L1237.7 654.6 L1226.1 656.0 L1215.9 658.9 L1201.3 663.3 L1186.7 669.1 L1176.5 667.7 L1164.9 675.0 L1150.3 670.6 L1145.9 675.0 L1135.7 679.3 L1128.4 673.5 L1118.2 667.7 L1103.7 672.1 L1092.0 679.3 L1080.4 680.8 L1071.6 673.5 L1065.8 679.3 L1055.6 683.7 L1045.4 680.8 L1036.6 669.1 L1030.8 660.4 L1019.1 669.1 L1004.6 666.2 L990.0 662.0 L980.5 670.6 L967.3 669.1 L958.6 669.1 L951.3 673.5 L941.1 666.2 L929.5 675.0 L914.9 675.0 L900.3 670.6 L894.5 677.9 L885.7 682.3 L878.4 688.1 L868.2 695.4 L866.8 704.1 L856.6 708.5 L842.0 712.9 L834.7 718.7 L821.6 726.0 L810.0 724.5 L801.2 718.7 L795.0 705.0 L783.7 696.8 L769.1 695.4 L756.0 695.4 L751.7 705.6 L752.0 722.0 L757.0 740.0 L720.0 760.0 L710.0 600.0 L745.0 585.0 L760.0 582.0Z" fill="#1874CD"/>
</g>
<g filter="url(#rg2)">
<g clip-path="url(#c1)"><path d="M1256.7 479.2 L1252.2 491.7 L1245.9 498.9 L1237.8 509.7 L1232.5 520.4 L1228.0 527.6 L1226.2 535.7 L1232.5 545.6 L1243.2 538.4 L1251.3 529.4 L1260.3 518.7 L1269.2 507.9 L1276.4 498.9 L1281.8 489.1 L1284.5 479.2Z" fill="#CD0000"/><path d="M1256.7 479.2 L1252.2 491.7 L1245.9 498.9 L1237.8 509.7 L1232.5 520.4 L1228.0 527.6 L1226.2 535.7 L1232.5 545.6 L1243.2 538.4 L1251.3 529.4 L1260.3 518.7 L1269.2 507.9 L1276.4 498.9 L1281.8 489.1 L1284.5 479.2Z" fill="none" stroke="#DA3602" stroke-width="15.0" stroke-linejoin="round"/><path d="M1256.7 479.2 L1252.2 491.7 L1245.9 498.9 L1237.8 509.7 L1232.5 520.4 L1228.0 527.6 L1226.2 535.7 L1232.5 545.6 L1243.2 538.4 L1251.3 529.4 L1260.3 518.7 L1269.2 507.9 L1276.4 498.9 L1281.8 489.1 L1284.5 479.2Z" fill="none" stroke="#EFA603" stroke-width="5.0" stroke-linejoin="round"/></g>
<path d="M1293.5 481.9 L1297.9 482.8 L1280.9 504.3 L1266.5 520.4 L1252.2 534.8 L1248.6 533.0 L1263.0 516.9 L1277.3 500.7Z" fill="#EFA603"/>
<path d="M1286.3 491.7 L1289.0 492.6 L1279.1 504.3 L1276.4 503.4Z" fill="#CD0000"/>
<path d="M1270.1 513.3 L1272.8 514.2 L1263.0 525.8 L1260.3 524.9Z" fill="#CD0000"/>
<path d="M1300.6 482.8 L1306.0 483.7 L1291.7 504.3 L1275.5 524.0 L1259.4 540.2 L1254.9 538.4 L1270.1 522.2 L1286.3 502.5Z" fill="#B4CF3E"/>
<g clip-path="url(#c2)"><path d="M1250.0 538.8 L1225.0 553.8 L1210.0 562.0 L1195.0 572.0 L1180.0 584.5 L1165.0 597.0 L1157.5 603.8 L1172.5 604.5 L1187.5 596.2 L1205.0 583.8 L1220.0 571.2 L1235.0 561.2 L1253.0 550.0Z" fill="#EFA603"/><path d="M1250.0 538.8 L1225.0 553.8 L1210.0 562.0 L1195.0 572.0 L1180.0 584.5 L1165.0 597.0 L1157.5 603.8 L1172.5 604.5 L1187.5 596.2 L1205.0 583.8 L1220.0 571.2 L1235.0 561.2 L1253.0 550.0Z" fill="none" stroke="#B4CF3E" stroke-width="10.0" stroke-linejoin="round"/><path d="M1250.0 538.8 L1225.0 553.8 L1210.0 562.0 L1195.0 572.0 L1180.0 584.5 L1165.0 597.0 L1157.5 603.8 L1172.5 604.5 L1187.5 596.2 L1205.0 583.8 L1220.0 571.2 L1235.0 561.2 L1253.0 550.0Z" fill="none" stroke="#4B929B" stroke-width="3.0" stroke-linejoin="round"/></g>
<path d="M1215.0 565.0 L1220.0 566.2 L1205.0 578.8 L1201.2 577.0Z" fill="#DA3602"/>
<path d="M1192.5 583.8 L1196.2 585.0 L1185.0 593.8 L1182.0 592.5Z" fill="#CD0000"/>
<path d="M1175.0 595.0 L1179.5 596.2 L1171.2 602.0 L1167.5 601.2Z" fill="#DA3602"/>
<g clip-path="url(#c3)"><path d="M1169.5 591.8 L1180.4 585.9 L1191.4 580.0 L1209.0 580.0 L1214.1 586.7 L1204.0 595.1 L1193.9 601.0 L1180.4 603.5 L1170.4 601.0Z" fill="#EFA603"/><path d="M1169.5 591.8 L1180.4 585.9 L1191.4 580.0 L1209.0 580.0 L1214.1 586.7 L1204.0 595.1 L1193.9 601.0 L1180.4 603.5 L1170.4 601.0Z" fill="none" stroke="#B4CF3E" stroke-width="9.0" stroke-linejoin="round"/><path d="M1169.5 591.8 L1180.4 585.9 L1191.4 580.0 L1209.0 580.0 L1214.1 586.7 L1204.0 595.1 L1193.9 601.0 L1180.4 603.5 L1170.4 601.0Z" fill="none" stroke="#4B929B" stroke-width="3.0" stroke-linejoin="round"/></g>
<path d="M1185.5 588.4 L1188.9 587.6 L1191.4 595.1 L1188.0 596.8Z" fill="#CD0000"/>
<path d="M1200.6 583.4 L1204.8 582.5 L1205.7 590.1 L1202.3 590.9Z" fill="#CD0000"/>
<path d="M1155.3 563.5 L1173.3 561.7 L1175.1 576.1 L1164.3 581.4 L1154.4 577.8Z" fill="#4B929B"/>
<path d="M1159.8 568.9 L1164.3 568.0 L1164.7 572.5 L1160.7 573.4Z" fill="#B4CF3E"/>
<path d="M1123.0 534.8 L1128.4 534.8 L1128.1 543.8 L1123.9 543.8Z" fill="#4B929B"/>
<path d="M1166.1 535.7 L1171.5 535.7 L1171.8 543.8 L1166.5 543.8Z" fill="#B4CF3E"/>
<path d="M1286.3 461.3 L1318.6 439.7 L1321.3 442.4 L1289.9 464.8Z" fill="#DA3602"/>
<path d="M1282.7 472.0 L1302.4 457.7 L1305.1 460.4 L1286.3 475.6Z" fill="#DA3602"/>
<g clip-path="url(#c4)"><path d="M884.3 657.5 L894.5 653.8 L902.5 658.9 L900.3 667.7 L891.6 670.6 L885.0 665.5Z" fill="#4B929B"/></g>
<path d="M893.7 656.8 L898.8 658.9 L895.9 666.2 L893.7 663.3Z" fill="#B4CF3E"/>
<path d="M814.3 702.7 L827.4 689.5 L842.0 691.0 L856.6 691.7 L865.3 695.4 L862.4 705.6 L850.8 708.5 L836.2 710.0 L821.6 708.5Z" fill="#4B929B"/>
<path d="M827.4 701.2 L839.1 698.3 L842.0 705.6 L830.4 707.0Z" fill="#1874CD"/>
<path d="M641.0 551.0 L769.0 551.0 L769.0 576.0 L760.0 582.0 L746.0 585.0 L744.0 700.0 L740.0 750.0 L700.0 768.0 L650.0 712.0 L641.0 706.0Z" fill="#1874CD"/>
<g clip-path="url(#c5)"><path d="M300.0 424.0 L325.0 424.0 L330.0 439.0 L334.0 454.0 L343.0 468.0 L349.0 483.0 L353.0 490.0 L353.0 473.0 L349.0 461.0 L357.0 448.0 L360.0 445.0 L369.0 446.0 L373.5 458.0 L378.0 471.0 L386.6 481.4 L395.3 493.0 L400.0 505.0 L405.5 518.0 L425.0 524.0 L440.0 522.0 L448.0 515.0 L453.0 524.0 L459.0 512.0 L465.0 525.0 L472.0 515.0 L478.0 526.0 L484.0 508.0 L490.0 526.0 L497.0 511.0 L503.0 525.0 L509.0 502.0 L515.0 524.0 L521.0 509.0 L527.0 526.0 L531.0 515.0 L535.6 526.0 L536.0 539.0 L550.0 541.0 L566.0 542.0 L580.0 543.0 L600.0 546.0 L620.0 546.0 L642.0 547.0 L642.0 706.0 L599.0 706.0 L520.0 674.0 L470.0 674.0 L440.0 650.0 L395.0 628.0 L380.0 600.0 L360.0 570.0 L340.0 520.0 L315.0 470.0Z" fill="#1874CD"/></g>
<g clip-path="url(#c6)"><path d="M300.0 424.0 L325.0 424.0 L330.0 439.0 L334.0 454.0 L343.0 468.0 L349.0 483.0 L353.0 490.0 L353.0 473.0 L349.0 461.0 L357.0 448.0 L360.0 445.0 L369.0 446.0 L373.5 458.0 L378.0 471.0 L386.6 481.4 L395.3 493.0 L400.0 505.0 L405.5 518.0 L425.0 524.0 L440.0 522.0 L448.0 515.0 L453.0 524.0 L459.0 512.0 L465.0 525.0 L472.0 515.0 L478.0 526.0 L484.0 508.0 L490.0 526.0 L497.0 511.0 L503.0 525.0 L509.0 502.0 L515.0 524.0 L521.0 509.0 L527.0 526.0 L531.0 515.0 L535.6 526.0 L536.0 539.0 L550.0 541.0 L566.0 542.0 L580.0 543.0 L600.0 546.0 L620.0 546.0 L642.0 547.0 L642.0 706.0 L599.0 706.0 L520.0 674.0 L470.0 674.0 L440.0 650.0 L395.0 628.0 L380.0 600.0 L360.0 570.0 L340.0 520.0 L315.0 470.0Z" fill="#1874CD"/><path d="M440.0 522.0 L448.0 515.0 L453.0 524.0 L459.0 512.0 L465.0 525.0 L472.0 515.0 L478.0 526.0 L484.0 508.0 L490.0 526.0 L497.0 511.0 L503.0 525.0 L509.0 502.0 L515.0 524.0 L521.0 509.0 L527.0 526.0 L531.0 515.0 L535.6 526.0" fill="none" stroke="#4B929B" stroke-width="33.0" stroke-linejoin="round"/><path d="M440.0 522.0 L448.0 515.0 L453.0 524.0 L459.0 512.0 L465.0 525.0 L472.0 515.0 L478.0 526.0 L484.0 508.0 L490.0 526.0 L497.0 511.0 L503.0 525.0 L509.0 502.0 L515.0 524.0 L521.0 509.0 L527.0 526.0 L531.0 515.0 L535.6 526.0" fill="none" stroke="#B4CF3E" stroke-width="27.0" stroke-linejoin="round"/><path d="M440.0 522.0 L448.0 515.0 L453.0 524.0 L459.0 512.0 L465.0 525.0 L472.0 515.0 L478.0 526.0 L484.0 508.0 L490.0 526.0 L497.0 511.0 L503.0 525.0 L509.0 502.0 L515.0 524.0 L521.0 509.0 L527.0 526.0 L531.0 515.0 L535.6 526.0" fill="none" stroke="#EFA603" stroke-width="19.0" stroke-linejoin="round"/><path d="M440.0 522.0 L448.0 515.0 L453.0 524.0 L459.0 512.0 L465.0 525.0 L472.0 515.0 L478.0 526.0 L484.0 508.0 L490.0 526.0 L497.0 511.0 L503.0 525.0 L509.0 502.0 L515.0 524.0 L521.0 509.0 L527.0 526.0 L531.0 515.0 L535.6 526.0" fill="none" stroke="#DA3602" stroke-width="6.0" stroke-linejoin="round"/></g>
<g clip-path="url(#c7)"><path d="M360.0 445.0 L369.0 446.0 L373.5 458.0 L378.0 471.0 L386.6 481.4 L395.3 493.0 L400.0 505.0 L405.5 518.0" fill="none" stroke="#4B929B" stroke-width="10.0" stroke-linejoin="round"/><path d="M360.0 445.0 L369.0 446.0 L373.5 458.0 L378.0 471.0 L386.6 481.4 L395.3 493.0 L400.0 505.0 L405.5 518.0" fill="none" stroke="#B4CF3E" stroke-width="6.8" stroke-linejoin="round"/><path d="M360.0 445.0 L369.0 446.0 L373.5 458.0 L378.0 471.0 L386.6 481.4 L395.3 493.0 L400.0 505.0 L405.5 518.0" fill="none" stroke="#EFA603" stroke-width="3.2" stroke-linejoin="round"/></g>
<g clip-path="url(#c8)"><path d="M536.0 539.0 L550.0 541.0 L566.0 542.0 L580.0 543.0 L600.0 546.0 L620.0 546.0 L642.0 547.0" fill="none" stroke="#4B929B" stroke-width="13.0" stroke-linejoin="round"/><path d="M536.0 539.0 L550.0 541.0 L566.0 542.0 L580.0 543.0 L600.0 546.0 L620.0 546.0 L642.0 547.0" fill="none" stroke="#B4CF3E" stroke-width="9.0" stroke-linejoin="round"/><path d="M536.0 539.0 L550.0 541.0 L566.0 542.0 L580.0 543.0 L600.0 546.0 L620.0 546.0 L642.0 547.0" fill="none" stroke="#EFA603" stroke-width="4.0" stroke-linejoin="round"/></g>
<g clip-path="url(#c9)"><path d="M400.0 500.0 L405.5 518.0 L413.0 529.5 L416.0 537.0 L424.0 545.0 L431.0 557.0 L437.0 567.0 L441.0 580.0 L443.0 595.0 L450.0 591.0 L456.0 580.0 L455.0 565.0 L452.0 553.0 L447.0 537.0 L445.0 531.0 L452.0 520.0 L440.0 505.0Z" fill="#CD0000"/><path d="M405.5 518.0 L413.0 529.5 L416.0 537.0 L424.0 545.0 L431.0 557.0 L437.0 567.0 L441.0 580.0 L443.0 595.0 L450.0 591.0 L456.0 580.0 L455.0 565.0 L452.0 553.0" fill="none" stroke="#EFA603" stroke-width="6.0" stroke-linejoin="round"/><path d="M405.5 518.0 L413.0 529.5 L416.0 537.0 L424.0 545.0 L431.0 557.0 L437.0 567.0 L441.0 580.0 L443.0 595.0 L450.0 591.0 L456.0 580.0 L455.0 565.0 L452.0 553.0" fill="none" stroke="#B4CF3E" stroke-width="3.0" stroke-linejoin="round"/></g>
<path d="M453.4 540.1 L460.9 546.0 L465.1 560.3 L467.7 573.7 L462.6 575.4 L459.3 562.0 L454.2 550.2Z" fill="#CD0000"/>
<path d="M467.7 553.6 L478.6 570.4 L486.2 584.7 L494.6 600.7 L488.2 604.0 L479.8 589.7 L471.4 574.6 L463.5 560.3Z" fill="#CD0000"/>
<path d="M454.2 572.1 L459.3 573.7 L460.9 585.5 L455.9 588.9 L452.5 580.5Z" fill="#CD0000"/>
<path d="M439.1 580.5 L447.5 580.5 L450.8 588.9 L447.5 597.3 L440.8 595.6Z" fill="#CD0000"/>
<g clip-path="url(#c10)"><path d="M494.1 564.6 L505.3 566.9 L506.4 574.7 L498.6 573.6Z" fill="#CD0000"/><path d="M494.1 564.6 L505.3 566.9 L506.4 574.7 L498.6 573.6Z" fill="none" stroke="#EFA603" stroke-width="7.0" stroke-linejoin="round"/><path d="M494.1 564.6 L505.3 566.9 L506.4 574.7 L498.6 573.6Z" fill="none" stroke="#B4CF3E" stroke-width="3.0" stroke-linejoin="round"/></g>
<g clip-path="url(#c11)"><path d="M509.8 556.8 L516.5 557.9 L516.1 566.9 L510.9 565.7Z" fill="#EFA603"/><path d="M509.8 556.8 L516.5 557.9 L516.1 566.9 L510.9 565.7Z" fill="none" stroke="#B4CF3E" stroke-width="3.0" stroke-linejoin="round"/></g>
<g clip-path="url(#c12)"><path d="M439.1 624.2 L454.2 620.8 L460.9 624.2 L467.7 630.9 L460.9 637.7 L454.2 634.3 L444.1 630.9Z" fill="#CD0000"/><path d="M439.1 624.2 L454.2 620.8 L460.9 624.2 L467.7 630.9 L460.9 637.7 L454.2 634.3 L444.1 630.9Z" fill="none" stroke="#EFA603" stroke-width="7.0" stroke-linejoin="round"/><path d="M439.1 624.2 L454.2 620.8 L460.9 624.2 L467.7 630.9 L460.9 637.7 L454.2 634.3 L444.1 630.9Z" fill="none" stroke="#B4CF3E" stroke-width="3.0" stroke-linejoin="round"/></g>
<path d="M424.8 609.1 L432.3 608.2 L434.0 613.3 L427.3 614.1Z" fill="#EFA603"/>
<path d="M439.1 585.5 L447.5 588.9 L444.1 597.3 L438.2 594.8Z" fill="#DA3602"/>
<g clip-path="url(#c13)"><path d="M492.9 614.1 L508.0 610.8 L518.1 604.0 L521.8 600.3 L530.3 624.2 L524.9 639.4 L521.8 651.1 L525.7 662.9 L487.9 665.6 L484.5 651.1 L481.1 637.7 L477.8 630.9 L474.4 624.2 L481.1 624.2 L491.2 627.6 L498.0 634.3 L503.0 630.9 L494.6 620.8Z" fill="#CD0000"/><path d="M521.8 600.3 L518.1 604.0 L508.0 610.8 L492.9 614.1 L494.6 620.8 L503.0 630.9 L498.0 634.3 L491.2 627.6 L481.1 624.2 L474.4 624.2 L477.8 630.9 L481.1 637.7 L484.5 651.1 L487.9 665.6" fill="none" stroke="#EFA603" stroke-width="8.4" stroke-linejoin="round"/><path d="M521.8 600.3 L518.1 604.0 L508.0 610.8 L492.9 614.1 L494.6 620.8 L503.0 630.9 L498.0 634.3 L491.2 627.6 L481.1 624.2 L474.4 624.2 L477.8 630.9 L481.1 637.7 L484.5 651.1 L487.9 665.6" fill="none" stroke="#B4CF3E" stroke-width="5.4" stroke-linejoin="round"/><path d="M521.8 600.3 L518.1 604.0 L508.0 610.8 L492.9 614.1 L494.6 620.8 L503.0 630.9 L498.0 634.3 L491.2 627.6 L481.1 624.2 L474.4 624.2 L477.8 630.9 L481.1 637.7 L484.5 651.1 L487.9 665.6" fill="none" stroke="#4B929B" stroke-width="2.4" stroke-linejoin="round"/></g>
<g clip-path="url(#c14)"><path d="M460.9 630.9 L471.0 634.3 L477.8 647.8 L481.1 664.6 L474.4 666.3 L469.4 654.5 L464.3 644.4Z" fill="#4B929B"/><path d="M460.9 630.9 L471.0 634.3 L477.8 647.8 L481.1 664.6 L474.4 666.3 L469.4 654.5 L464.3 644.4Z" fill="none" stroke="#B4CF3E" stroke-width="12.0" stroke-linejoin="round"/><path d="M460.9 630.9 L471.0 634.3 L477.8 647.8 L481.1 664.6 L474.4 666.3 L469.4 654.5 L464.3 644.4Z" fill="none" stroke="#EFA603" stroke-width="8.0" stroke-linejoin="round"/><path d="M460.9 630.9 L471.0 634.3 L477.8 647.8 L481.1 664.6 L474.4 666.3 L469.4 654.5 L464.3 644.4Z" fill="none" stroke="#DA3602" stroke-width="4.0" stroke-linejoin="round"/></g>
<path d="M477.8 634.3 L482.8 637.7 L489.5 664.6 L483.7 665.4 L480.3 651.1Z" fill="#1874CD"/>
<path d="M467.0 554.2 L470.0 553.0 L473.0 554.5 L472.4 558.1 L469.4 559.0 L467.0 557.5Z" fill="#B4CF3E"/>
<path d="M479.5 560.5 L482.0 559.5 L484.5 560.8 L484.0 563.8 L481.5 564.5 L479.5 563.2Z" fill="#EFA603"/>
<path d="M473.5 568.5 L476.0 567.5 L478.5 568.8 L478.0 571.8 L475.5 572.5 L473.5 571.2Z" fill="#B4CF3E"/>
<path d="M487.0 575.2 L490.0 574.0 L493.0 575.5 L492.4 579.1 L489.4 580.0 L487.0 578.5Z" fill="#B4CF3E"/>
<path d="M497.0 550.2 L500.0 549.0 L503.0 550.5 L502.4 554.1 L499.4 555.0 L497.0 553.5Z" fill="#B4CF3E"/>
<path d="M505.5 558.5 L508.0 557.5 L510.5 558.8 L510.0 561.8 L507.5 562.5 L505.5 561.2Z" fill="#EFA603"/>
<path d="M512.0 568.2 L515.0 567.0 L518.0 568.5 L517.4 572.1 L514.4 573.0 L512.0 571.5Z" fill="#B4CF3E"/>
<path d="M521.0 550.2 L524.0 549.0 L527.0 550.5 L526.4 554.1 L523.4 555.0 L521.0 553.5Z" fill="#EFA603"/>
<path d="M526.0 561.2 L529.0 560.0 L532.0 561.5 L531.4 565.1 L528.4 566.0 L526.0 564.5Z" fill="#B4CF3E"/>
<path d="M524.0 583.2 L527.0 582.0 L530.0 583.5 L529.4 587.1 L526.4 588.0 L524.0 586.5Z" fill="#B4CF3E"/>
<path d="M509.5 584.5 L512.0 583.5 L514.5 584.8 L514.0 587.8 L511.5 588.5 L509.5 587.2Z" fill="#B4CF3E"/>
<path d="M460.5 583.5 L463.0 582.5 L465.5 583.8 L465.0 586.8 L462.5 587.5 L460.5 586.2Z" fill="#B4CF3E"/>
<path d="M467.0 598.2 L470.0 597.0 L473.0 598.5 L472.4 602.1 L469.4 603.0 L467.0 601.5Z" fill="#B4CF3E"/>
<path d="M482.5 604.5 L485.0 603.5 L487.5 604.8 L487.0 607.8 L484.5 608.5 L482.5 607.2Z" fill="#EFA603"/>
<path d="M493.5 596.5 L496.0 595.5 L498.5 596.8 L498.0 599.8 L495.5 600.5 L493.5 599.2Z" fill="#B4CF3E"/>
<path d="M452.5 608.5 L455.0 607.5 L457.5 608.8 L457.0 611.8 L454.5 612.5 L452.5 611.2Z" fill="#B4CF3E"/>
<path d="M502.0 600.2 L505.0 599.0 L508.0 600.5 L507.4 604.1 L504.4 605.0 L502.0 603.5Z" fill="#B4CF3E"/>
<path d="M445.0 598.8 L447.0 598.0 L449.0 599.0 L448.6 601.4 L446.6 602.0 L445.0 601.0Z" fill="#EFA603"/>
<path d="M535.0 598.2 L538.0 597.0 L541.0 598.5 L540.4 602.1 L537.4 603.0 L535.0 601.5Z" fill="#B4CF3E"/>
<path d="M542.0 610.2 L545.0 609.0 L548.0 610.5 L547.4 614.1 L544.4 615.0 L542.0 613.5Z" fill="#EFA603"/>
<path d="M549.5 603.5 L552.0 602.5 L554.5 603.8 L554.0 606.8 L551.5 607.5 L549.5 606.2Z" fill="#B4CF3E"/>
<path d="M530.5 638.5 L533.0 637.5 L535.5 638.8 L535.0 641.8 L532.5 642.5 L530.5 641.2Z" fill="#B4CF3E"/>
<path d="M539.5 626.5 L542.0 625.5 L544.5 626.8 L544.0 629.8 L541.5 630.5 L539.5 629.2Z" fill="#B4CF3E"/>
<g clip-path="url(#c15)"><path d="M517.6 669.5 L527.1 654.3 L521.4 646.7 L529.0 631.4 L534.8 623.8 L544.3 629.5 L551.9 635.2 L567.1 631.4 L578.6 631.4 L590.0 639.0 L597.6 650.5 L605.2 661.9 L605.2 677.1 L593.8 684.8 L586.2 692.4 L581.4 700.0 L517.6 673.3Z" fill="#CD0000"/><path d="M529.0 631.4 L534.8 623.8 L544.3 629.5 L551.9 635.2 L567.1 631.4 L578.6 631.4 L590.0 639.0 L597.6 650.5 L605.2 661.9 L605.2 677.1 L593.8 684.8 L586.2 692.4 L581.4 700.0" fill="none" stroke="#EFA603" stroke-width="11.0" stroke-linejoin="round"/><path d="M529.0 631.4 L534.8 623.8 L544.3 629.5 L551.9 635.2 L567.1 631.4 L578.6 631.4 L590.0 639.0 L597.6 650.5 L605.2 661.9 L605.2 677.1 L593.8 684.8 L586.2 692.4 L581.4 700.0" fill="none" stroke="#B4CF3E" stroke-width="7.0" stroke-linejoin="round"/><path d="M529.0 631.4 L534.8 623.8 L544.3 629.5 L551.9 635.2 L567.1 631.4 L578.6 631.4 L590.0 639.0 L597.6 650.5 L605.2 661.9 L605.2 677.1 L593.8 684.8 L586.2 692.4 L581.4 700.0" fill="none" stroke="#4B929B" stroke-width="3.0" stroke-linejoin="round"/></g>
<g clip-path="url(#c16)"><path d="M563.3 553.3 L583.3 553.3 L587.1 571.4 L592.9 586.7 L599.5 599.4 L609.0 610.5 L623.3 618.1 L636.7 621.9 L643.3 639.0 L633.8 651.4 L617.6 643.8 L605.2 634.3 L591.9 628.6 L580.5 616.2 L570.0 601.9 L564.3 584.8 L562.4 568.6Z" fill="#DA3602"/><path d="M563.3 553.3 L583.3 553.3 L587.1 571.4 L592.9 586.7 L599.5 599.4 L609.0 610.5 L623.3 618.1 L636.7 621.9 L643.3 639.0 L633.8 651.4 L617.6 643.8 L605.2 634.3 L591.9 628.6 L580.5 616.2 L570.0 601.9 L564.3 584.8 L562.4 568.6Z" fill="none" stroke="#EFA603" stroke-width="17.0" stroke-linejoin="round"/><path d="M563.3 553.3 L583.3 553.3 L587.1 571.4 L592.9 586.7 L599.5 599.4 L609.0 610.5 L623.3 618.1 L636.7 621.9 L643.3 639.0 L633.8 651.4 L617.6 643.8 L605.2 634.3 L591.9 628.6 L580.5 616.2 L570.0 601.9 L564.3 584.8 L562.4 568.6Z" fill="none" stroke="#B4CF3E" stroke-width="10.0" stroke-linejoin="round"/><path d="M563.3 553.3 L583.3 553.3 L587.1 571.4 L592.9 586.7 L599.5 599.4 L609.0 610.5 L623.3 618.1 L636.7 621.9 L643.3 639.0 L633.8 651.4 L617.6 643.8 L605.2 634.3 L591.9 628.6 L580.5 616.2 L570.0 601.9 L564.3 584.8 L562.4 568.6Z" fill="none" stroke="#4B929B" stroke-width="4.0" stroke-linejoin="round"/></g>
<path d="M570.0 558.1 L576.3 558.1 L578.6 572.4 L574.8 575.2 L571.0 568.6Z" fill="#CD0000"/>
<path d="M622.4 624.8 L633.8 627.6 L635.7 639.0 L629.0 641.9 L623.3 633.3Z" fill="#CD0000"/>
<path d="M574.8 583.8 L585.2 595.2 L595.7 612.4 L590.0 616.2 L579.5 604.8 L571.9 591.4Z" fill="#CD0000"/>
<g clip-path="url(#c17)"><path d="M583.3 558.1 L599.5 566.7 L611.9 582.9 L623.3 598.1 L637.6 609.5 L635.7 621.0 L615.7 614.3 L599.5 603.8 L590.0 588.6 L584.3 575.2Z" fill="#1874CD"/><path d="M583.3 558.1 L599.5 566.7 L611.9 582.9 L623.3 598.1 L637.6 609.5 L635.7 621.0 L615.7 614.3 L599.5 603.8 L590.0 588.6 L584.3 575.2Z" fill="none" stroke="#4B929B" stroke-width="10.0" stroke-linejoin="round"/><path d="M583.3 558.1 L599.5 566.7 L611.9 582.9 L623.3 598.1 L637.6 609.5 L635.7 621.0 L615.7 614.3 L599.5 603.8 L590.0 588.6 L584.3 575.2Z" fill="none" stroke="#B4CF3E" stroke-width="3.0" stroke-linejoin="round"/></g>
<g clip-path="url(#c18)"><path d="M605.2 553.0 L641.4 553.0 L641.4 604.8 L633.8 605.7 L624.3 595.2 L616.7 581.9 L609.0 568.6Z" fill="#DA3602"/><path d="M605.2 553.0 L641.4 553.0 L641.4 604.8 L633.8 605.7 L624.3 595.2 L616.7 581.9 L609.0 568.6Z" fill="none" stroke="#EFA603" stroke-width="18.0" stroke-linejoin="round"/><path d="M605.2 553.0 L641.4 553.0 L641.4 604.8 L633.8 605.7 L624.3 595.2 L616.7 581.9 L609.0 568.6Z" fill="none" stroke="#B4CF3E" stroke-width="8.0" stroke-linejoin="round"/></g>
<path d="M622.4 553.3 L639.5 553.3 L639.5 568.6 L631.9 576.2 L624.3 568.6Z" fill="#B4CF3E"/>
<g clip-path="url(#c19)"><path d="M552.9 573.3 L565.2 572.4 L569.0 583.8 L567.1 597.1 L557.6 599.0 L552.9 589.5Z" fill="#EFA603"/><path d="M552.9 573.3 L565.2 572.4 L569.0 583.8 L567.1 597.1 L557.6 599.0 L552.9 589.5Z" fill="none" stroke="#B4CF3E" stroke-width="12.0" stroke-linejoin="round"/><path d="M552.9 573.3 L565.2 572.4 L569.0 583.8 L567.1 597.1 L557.6 599.0 L552.9 589.5Z" fill="none" stroke="#4B929B" stroke-width="4.0" stroke-linejoin="round"/></g>
<g clip-path="url(#c20)"><path d="M538.6 554.3 L565.2 554.3 L563.3 561.0 L551.9 564.8 L540.5 562.9Z" fill="#B4CF3E"/><path d="M538.6 554.3 L565.2 554.3 L563.3 561.0 L551.9 564.8 L540.5 562.9Z" fill="none" stroke="#4B929B" stroke-width="4.0" stroke-linejoin="round"/></g>
<g clip-path="url(#c21)"><path d="M542.4 602.9 L553.8 606.7 L559.5 621.9 L551.9 625.7 L544.3 616.2Z" fill="#B4CF3E"/><path d="M542.4 602.9 L553.8 606.7 L559.5 621.9 L551.9 625.7 L544.3 616.2Z" fill="none" stroke="#4B929B" stroke-width="4.0" stroke-linejoin="round"/></g>
<path d="M542.4 593.3 L555.7 592.4 L556.7 604.8 L543.3 605.7Z" fill="#B4CF3E"/>
<path d="M546.2 596.2 L552.9 595.6 L553.4 601.9 L546.6 602.5Z" fill="#EFA603"/>
<path d="M555.7 602.9 L567.1 601.9 L568.1 616.2 L556.7 617.1Z" fill="#B4CF3E"/>
<path d="M538.6 557.1 L548.1 556.2 L549.0 562.9 L539.5 563.8Z" fill="#EFA603"/>
<path d="M558.6 605.7 L565.2 605.3 L565.6 613.3 L559.0 613.7Z" fill="#EFA603"/>
<path d="M606.2 555.2 L616.7 554.3 L624.3 568.6 L631.9 583.8 L635.7 602.9 L628.1 601.0 L620.5 585.7 L612.9 570.5Z" fill="#DA3602"/>
<g clip-path="url(#c22)"><path d="M624.3 650.5 L631.9 654.3 L633.8 663.8 L627.1 661.9Z" fill="#EFA603"/><path d="M624.3 650.5 L631.9 654.3 L633.8 663.8 L627.1 661.9Z" fill="none" stroke="#B4CF3E" stroke-width="7.0" stroke-linejoin="round"/><path d="M624.3 650.5 L631.9 654.3 L633.8 663.8 L627.1 661.9Z" fill="none" stroke="#4B929B" stroke-width="3.0" stroke-linejoin="round"/></g>
<g clip-path="url(#c23)"><path d="M639.5 550.5 L768.3 550.5 L768.3 564.8 L763.4 578.1 L752.0 579.1 L744.3 585.7 L729.1 593.4 L723.4 601.0 L725.3 616.2 L719.6 629.6 L717.7 646.7 L719.6 663.9 L711.9 669.6 L706.2 662.0 L706.2 644.8 L710.0 635.3 L702.4 631.5 L696.7 639.1 L694.8 629.6 L691.0 623.8 L694.8 616.2 L692.9 597.2 L696.7 587.6 L687.2 591.4 L683.4 606.7 L681.4 623.8 L677.6 635.3 L673.8 648.6 L668.1 662.0 L658.6 662.0 L649.1 654.3 L645.2 642.9 L639.5 641.0Z" fill="#DA3602"/><path d="M768.3 564.8 L763.4 578.1 L752.0 579.1 L744.3 585.7 L729.1 593.4 L723.4 601.0 L725.3 616.2 L719.6 629.6 L717.7 646.7 L719.6 663.9 L711.9 669.6 L706.2 662.0 L706.2 644.8 L710.0 635.3 L702.4 631.5 L696.7 639.1 L694.8 629.6 L691.0 623.8 L694.8 616.2 L692.9 597.2 L696.7 587.6 L687.2 591.4 L683.4 606.7 L681.4 623.8 L677.6 635.3 L673.8 648.6 L668.1 662.0 L658.6 662.0 L649.1 654.3 L645.2 642.9 L639.5 641.0" fill="none" stroke="#EFA603" stroke-width="21.0" stroke-linejoin="round"/><path d="M768.3 564.8 L763.4 578.1 L752.0 579.1 L744.3 585.7 L729.1 593.4 L723.4 601.0 L725.3 616.2 L719.6 629.6 L717.7 646.7 L719.6 663.9 L711.9 669.6 L706.2 662.0 L706.2 644.8 L710.0 635.3 L702.4 631.5 L696.7 639.1 L694.8 629.6 L691.0 623.8 L694.8 616.2 L692.9 597.2 L696.7 587.6 L687.2 591.4 L683.4 606.7 L681.4 623.8 L677.6 635.3 L673.8 648.6 L668.1 662.0 L658.6 662.0 L649.1 654.3 L645.2 642.9 L639.5 641.0" fill="none" stroke="#B4CF3E" stroke-width="13.0" stroke-linejoin="round"/><path d="M768.3 564.8 L763.4 578.1 L752.0 579.1 L744.3 585.7 L729.1 593.4 L723.4 601.0 L725.3 616.2 L719.6 629.6 L717.7 646.7 L719.6 663.9 L711.9 669.6 L706.2 662.0 L706.2 644.8 L710.0 635.3 L702.4 631.5 L696.7 639.1 L694.8 629.6 L691.0 623.8 L694.8 616.2 L692.9 597.2 L696.7 587.6 L687.2 591.4 L683.4 606.7 L681.4 623.8 L677.6 635.3 L673.8 648.6 L668.1 662.0 L658.6 662.0 L649.1 654.3 L645.2 642.9 L639.5 641.0" fill="none" stroke="#4B929B" stroke-width="6.0" stroke-linejoin="round"/></g>
<path d="M671.9 550.5 L733.8 550.5 L729.1 559.1 L727.2 574.3 L721.5 587.6 L713.8 593.4 L706.2 583.8 L702.4 572.4 L692.9 576.2 L689.1 585.7 L679.5 581.9 L675.7 568.6Z" fill="#CD0000"/>
<path d="M708.1 643.8 L715.7 642.9 L718.6 654.3 L716.7 665.8 L711.9 667.7 L708.1 658.1Z" fill="#CD0000"/>
<path d="M695.7 597.2 L699.6 594.3 L700.5 604.8 L697.6 616.2 L694.8 614.3Z" fill="#CD0000"/>
<path d="M709.6 594.3 L713.8 592.4 L715.2 602.9 L712.9 609.6 L709.6 606.7Z" fill="#CD0000"/>
<path d="M649.1 585.7 L671.9 585.7 L671.0 602.9 L658.6 604.8 L649.1 601.0Z" fill="#CD0000"/>
<path d="M640.5 621.9 L652.9 623.8 L651.9 639.1 L640.5 640.0Z" fill="#CD0000"/>
<path d="M664.3 631.5 L675.7 629.6 L674.8 646.7 L666.2 646.7Z" fill="#CD0000"/>
<path d="M647.1 642.9 L652.9 642.9 L652.9 654.3 L648.1 653.4Z" fill="#CD0000"/>
<path d="M662.4 646.7 L668.1 646.7 L668.1 660.0 L663.3 659.1Z" fill="#CD0000"/>
<g clip-path="url(#c24)"><path d="M648.1 556.2 L668.1 555.2 L671.0 568.6 L664.3 580.0 L651.0 578.1 L647.1 566.7Z" fill="#B4CF3E"/><path d="M648.1 556.2 L668.1 555.2 L671.0 568.6 L664.3 580.0 L651.0 578.1 L647.1 566.7Z" fill="none" stroke="#EFA603" stroke-width="10.0" stroke-linejoin="round"/></g>
<path d="M640.5 559.1 L647.1 561.0 L646.2 578.1 L640.5 580.0Z" fill="#EFA603"/>
<path d="M733.8 556.2 L744.3 554.3 L753.9 559.1 L752.0 574.3 L742.4 581.9 L732.9 587.6 L725.3 591.4 L729.1 574.3Z" fill="#EFA603"/>
<path d="M739.6 556.2 L750.0 555.2 L752.0 562.9 L746.2 568.6 L740.5 564.8Z" fill="#DA3602"/>
<path d="M752.0 555.2 L763.4 553.3 L761.5 572.4 L752.0 578.1 L753.9 566.7Z" fill="#B4CF3E"/>
<path d="M538.5 443.6 L546.9 440.3 L555.3 447.0 L558.6 460.5 L567.1 450.4 L577.1 438.6 L582.2 452.1 L585.6 467.2 L578.8 473.9 L575.5 484.0 L582.2 494.1 L575.5 507.6 L565.4 510.9 L558.6 527.7 L550.2 537.8 L538.5 541.2Z" fill="#DA3602"/>
<path d="M546.9 487.4 L550.2 489.1 L548.5 497.5 L546.0 495.8Z" fill="#EFA603"/>
<path d="M550.2 504.2 L554.4 501.7 L552.8 510.9 L549.4 512.6Z" fill="#EFA603"/>
<g clip-path="url(#c25)"><path d="M612.5 490.7 L619.2 497.5 L632.7 494.1 L641.1 490.4 L641.1 508.4 L632.7 517.7 L632.7 527.7 L641.1 534.5 L641.1 549.6 L599.0 549.6 L592.3 537.8 L595.6 517.7 L605.7 507.6 L610.8 500.8Z" fill="#B4CF3E"/><path d="M612.5 490.7 L619.2 497.5 L632.7 494.1 L641.1 490.4 L641.1 508.4 L632.7 517.7 L632.7 527.7 L641.1 534.5 L641.1 549.6 L599.0 549.6 L592.3 537.8 L595.6 517.7 L605.7 507.6 L610.8 500.8Z" fill="none" stroke="#EFA603" stroke-width="14.0" stroke-linejoin="round"/><path d="M612.5 490.7 L619.2 497.5 L632.7 494.1 L641.1 490.4 L641.1 508.4 L632.7 517.7 L632.7 527.7 L641.1 534.5 L641.1 549.6 L599.0 549.6 L592.3 537.8 L595.6 517.7 L605.7 507.6 L610.8 500.8Z" fill="none" stroke="#DA3602" stroke-width="4.0" stroke-linejoin="round"/></g>
<g clip-path="url(#c26)"><path d="M604.1 531.1 L612.5 524.4 L616.7 531.1 L625.9 541.2 L632.7 544.6 L632.7 549.6 L600.7 549.6 L600.7 539.5Z" fill="#1874CD"/><path d="M604.1 531.1 L612.5 524.4 L616.7 531.1 L625.9 541.2 L632.7 544.6 L632.7 549.6 L600.7 549.6 L600.7 539.5Z" fill="none" stroke="#4B929B" stroke-width="6.0" stroke-linejoin="round"/></g>
<path d="M615.8 517.7 L632.7 509.2 L637.7 517.7 L632.7 527.7 L625.9 534.5 L619.2 527.7Z" fill="#CD0000"/>
<path d="M624.2 465.5 L636.0 462.1 L638.0 476.4 L629.3 477.3 L623.4 472.2Z" fill="#DA3602"/>
<path d="M599.0 494.1 L609.1 484.0 L612.5 489.1 L605.7 500.8 L599.0 504.2Z" fill="#DA3602"/>
<g clip-path="url(#c27)"><path d="M642.7 490.7 L647.8 489.9 L654.5 495.8 L659.6 504.2 L670.5 505.0 L669.7 508.4 L659.6 509.6 L649.5 501.7 L642.7 496.1Z" fill="#EFA603"/><path d="M642.7 490.7 L647.8 489.9 L654.5 495.8 L659.6 504.2 L670.5 505.0 L669.7 508.4 L659.6 509.6 L649.5 501.7 L642.7 496.1Z" fill="none" stroke="#DA3602" stroke-width="3.0" stroke-linejoin="round"/></g>
<g clip-path="url(#c28)"><path d="M642.7 508.4 L649.5 512.6 L652.8 521.0 L649.5 522.7 L643.6 516.0Z" fill="#EFA603"/><path d="M642.7 508.4 L649.5 512.6 L652.8 521.0 L649.5 522.7 L643.6 516.0Z" fill="none" stroke="#DA3602" stroke-width="3.0" stroke-linejoin="round"/></g>
<g clip-path="url(#c29)"><path d="M642.7 540.4 L654.5 542.9 L659.6 549.6 L642.7 549.6Z" fill="#B4CF3E"/><path d="M642.7 540.4 L654.5 542.9 L659.6 549.6 L642.7 549.6Z" fill="none" stroke="#EFA603" stroke-width="5.0" stroke-linejoin="round"/></g>
<g clip-path="url(#c30)"><path d="M713.4 514.3 L720.1 510.9 L725.0 510.9 L725.0 521.0 L720.1 519.3Z" fill="#B4CF3E"/><path d="M713.4 514.3 L720.1 510.9 L725.0 510.9 L725.0 521.0 L720.1 519.3Z" fill="none" stroke="#EFA603" stroke-width="5.0" stroke-linejoin="round"/></g>
<path d="M412.8 454.2 L423.8 446.4 L427.0 433.8 L436.4 424.4 L452.1 426.0 L464.6 435.4 L474.1 443.3 L486.6 452.7 L480.3 466.8 L467.8 471.5 L459.9 480.9 L456.8 496.6 L452.1 509.2 L436.4 512.3 L423.8 502.9 L412.8 496.6Z" fill="#DA3602"/>
<path d="M400.3 462.1 L412.1 465.2 L412.1 496.6 L403.4 488.8Z" fill="#DA3602"/>
<path d="M431.7 432.3 L434.4 431.5 L437.0 451.1 L434.4 451.9Z" fill="#CD0000"/>
<path d="M440.3 429.1 L443.0 428.3 L446.8 454.2 L444.1 455.0Z" fill="#CD0000"/>
<path d="M449.7 430.7 L452.4 429.9 L456.2 457.4 L453.5 458.2Z" fill="#CD0000"/>
<path d="M459.2 438.5 L461.8 437.8 L465.9 462.1 L463.2 462.9Z" fill="#CD0000"/>
<path d="M469.4 446.4 L472.0 445.6 L475.3 465.2 L472.7 466.0Z" fill="#CD0000"/>
<path d="M420.7 460.5 L423.2 459.7 L425.7 474.6 L423.2 475.4Z" fill="#CD0000"/>
<path d="M450.8 490.3 L453.3 489.6 L455.9 506.0 L453.3 506.8Z" fill="#CD0000"/>
<path d="M474.8 454.2 L478.8 453.5 L478.8 462.1 L475.6 462.9Z" fill="#CD0000"/>
<g clip-path="url(#c31)"><path d="M425.4 474.6 L436.4 468.4 L445.8 471.5 L447.4 480.9 L441.1 488.8 L430.1 491.9 L420.7 490.3 L423.8 482.5Z" fill="#EFA603"/><path d="M425.4 474.6 L436.4 468.4 L445.8 471.5 L447.4 480.9 L441.1 488.8 L430.1 491.9 L420.7 490.3 L423.8 482.5Z" fill="none" stroke="#DA3602" stroke-width="3.0" stroke-linejoin="round"/></g>
<path d="M413.6 455.8 L419.1 454.2 L423.1 466.8 L427.0 476.2 L423.8 477.8 L417.6 468.4Z" fill="#EFA603"/>
<path d="M428.5 443.3 L431.1 442.5 L435.1 466.8 L432.6 467.6Z" fill="#EFA603"/>
<path d="M451.8 460.5 L454.0 460.2 L452.1 474.6 L449.9 474.6Z" fill="#EFA603"/>
<path d="M423.8 493.5 L444.2 488.8 L456.8 502.9 L453.7 515.5 L439.5 509.2 L428.5 502.9Z" fill="#EFA603"/>
<path d="M433.3 496.6 L444.2 499.8 L445.0 505.3 L434.8 502.9Z" fill="#B4CF3E"/>
<path d="M448.2 484.1 L458.4 469.2 L460.4 470.7 L450.5 485.6Z" fill="#B4CF3E"/>
<path d="M538.9 439.1 L560.0 436.9 L560.0 540.0 L538.9 540.0Z" fill="#DA3602"/>
<g clip-path="url(#c32)"><path d="M326.9 422.4 L363.3 422.4 L369.1 446.4 L360.4 445.0 L348.7 461.0 L353.1 472.7 L353.1 488.7 L341.4 491.6 L334.1 485.8 L329.0 468.3 L324.7 452.3 L323.2 436.2Z" fill="#DA3602"/><path d="M369.1 446.4 L360.4 445.0 L348.7 461.0 L353.1 472.7 L353.1 488.7 L341.4 491.6 L334.1 485.8 L329.0 468.3 L324.7 452.3 L323.2 436.2 L326.9 422.4" fill="none" stroke="#EFA603" stroke-width="17.0" stroke-linejoin="round"/><path d="M369.1 446.4 L360.4 445.0 L348.7 461.0 L353.1 472.7 L353.1 488.7 L341.4 491.6 L334.1 485.8 L329.0 468.3 L324.7 452.3 L323.2 436.2 L326.9 422.4" fill="none" stroke="#B4CF3E" stroke-width="10.0" stroke-linejoin="round"/><path d="M369.1 446.4 L360.4 445.0 L348.7 461.0 L353.1 472.7 L353.1 488.7 L341.4 491.6 L334.1 485.8 L329.0 468.3 L324.7 452.3 L323.2 436.2 L326.9 422.4" fill="none" stroke="#4B929B" stroke-width="5.0" stroke-linejoin="round"/></g>
<path d="M338.5 427.5 L348.7 426.0 L354.5 436.2 L348.7 445.0 L340.0 442.1Z" fill="#CD0000"/>
<path d="M331.2 446.4 L340.0 445.0 L345.8 458.1 L341.4 465.4 L334.1 459.5Z" fill="#CD0000"/>
<path d="M353.1 426.0 L358.9 425.3 L360.4 430.4 L355.3 431.9Z" fill="#EFA603"/>
<path d="M337.1 465.4 L347.3 463.9 L350.2 478.5 L342.9 485.8 L336.3 475.6Z" fill="#EFA603"/>
<path d="M340.0 471.2 L345.8 470.5 L347.3 479.9 L342.2 482.9Z" fill="#B4CF3E"/>
<path d="M347.6 472.7 L351.6 471.9 L352.4 485.8 L348.7 487.2Z" fill="#CD0000"/>
<path d="M328.3 436.2 L334.1 434.8 L336.3 445.0 L330.5 446.4Z" fill="#EFA603"/>
<path d="M367.7 439.1 L383.7 437.7 L385.1 450.8 L373.5 452.3Z" fill="#DA3602"/>
<path d="M372.8 444.7 L378.6 443.8 L379.6 448.2 L374.7 448.8Z" fill="#EFA603"/>
<path d="M396.1 460.3 L407.0 461.0 L407.7 471.2 L401.2 468.3Z" fill="#DA3602"/>
<path d="M319.6 422.4 L325.4 422.4 L323.9 436.2 L325.4 452.3 L322.5 452.3 L320.3 433.3Z" fill="#4B929B"/>
<path d="M324.8 311.7 L349.6 310.9 L358.3 327.7 L361.2 348.1 L358.3 370.0 L356.9 393.3 L358.3 418.1 L319.0 418.1 L314.6 399.1 L321.9 370.0 L326.2 336.4Z" fill="#DA3602"/>
<path d="M329.2 314.6 L343.7 313.8 L342.3 329.2 L336.4 337.9 L329.9 343.7 L328.4 329.2Z" fill="#CD0000"/>
<path d="M329.2 348.1 L337.9 348.1 L336.4 364.1 L329.2 365.6Z" fill="#CD0000"/>
<g clip-path="url(#c33)"><path d="M343.7 324.8 L358.3 327.7 L361.2 337.9 L353.9 348.1 L349.6 361.2 L343.7 372.9 L339.4 381.6 L333.5 378.7 L339.4 364.1 L340.8 349.6 L342.3 336.4Z" fill="#EFA603"/><path d="M343.7 324.8 L358.3 327.7 L361.2 337.9 L353.9 348.1 L349.6 361.2 L343.7 372.9 L339.4 381.6 L333.5 378.7 L339.4 364.1 L340.8 349.6 L342.3 336.4Z" fill="none" stroke="#DA3602" stroke-width="2.0" stroke-linejoin="round"/></g>
<path d="M347.4 325.9 L357.6 328.0 L356.1 332.1 L348.8 331.3Z" fill="#B4CF3E"/>
<path d="M321.9 371.4 L343.7 371.4 L356.9 381.6 L357.6 417.8 L321.9 418.1 L316.0 400.6Z" fill="#EFA603"/>
<path d="M329.2 374.3 L340.8 374.3 L340.1 381.6 L329.9 382.4Z" fill="#B4CF3E"/>
<path d="M336.4 384.5 L348.1 383.8 L348.8 394.8 L337.2 394.8Z" fill="#B4CF3E"/>
<path d="M345.2 402.0 L353.9 402.0 L354.2 412.2 L345.5 412.2Z" fill="#B4CF3E"/>
<path d="M326.2 405.0 L333.5 404.2 L333.8 416.6 L326.5 416.6Z" fill="#B4CF3E"/>
<path d="M328.4 383.1 L336.4 382.4 L336.7 394.8 L329.2 394.8Z" fill="#DA3602"/>
<path d="M337.9 396.2 L348.1 395.5 L348.4 406.4 L338.2 406.4Z" fill="#DA3602"/>
<path d="M348.8 370.0 L357.6 368.5 L358.3 400.6 L350.3 393.3Z" fill="#DA3602"/>
<path d="M342.3 393.3 L349.6 392.6 L349.9 402.0 L342.6 402.0Z" fill="#CD0000"/>
<path d="M318.7 386.0 L326.2 385.3 L325.5 396.2 L321.9 402.0 L321.9 416.6 L318.2 416.6 L316.0 400.6Z" fill="#4B929B"/>
<path d="M319.7 388.9 L324.1 388.2 L323.3 394.8 L320.4 395.5Z" fill="#1874CD"/>
<g clip-path="url(#c34)"><path d="M390.4 327.0 L410.8 320.4 L431.2 315.3 L446.5 316.3 L440.7 325.1 L431.2 329.4 L413.7 332.4 L399.1 329.4Z" fill="#EFA603"/><path d="M390.4 327.0 L410.8 320.4 L431.2 315.3 L446.5 316.3 L440.7 325.1 L431.2 329.4 L413.7 332.4 L399.1 329.4Z" fill="none" stroke="#DA3602" stroke-width="10.0" stroke-linejoin="round"/></g>
<path d="M463.3 361.2 L470.6 364.1 L467.6 375.8 L460.3 387.5 L457.4 399.1 L445.8 407.9 L439.9 417.3 L445.8 417.3 L458.2 408.2 L464.0 393.3 L469.1 378.7Z" fill="#DA3602"/>
<g clip-path="url(#c35)"><path d="M474.5 365.0 L478.0 364.5 L483.8 377.5 L492.5 388.0 L506.2 395.0 L521.2 398.0 L527.5 402.0 L526.2 406.2 L518.8 403.8 L503.8 400.5 L488.8 393.0 L478.8 382.0Z" fill="#EFA603"/><path d="M474.5 365.0 L478.0 364.5 L483.8 377.5 L492.5 388.0 L506.2 395.0 L521.2 398.0 L527.5 402.0 L526.2 406.2 L518.8 403.8 L503.8 400.5 L488.8 393.0 L478.8 382.0Z" fill="none" stroke="#DA3602" stroke-width="7.0" stroke-linejoin="round"/></g>
<path d="M312.3 256.0 L322.4 275.1 L329.1 281.8 L339.2 279.6 L344.8 286.3 L352.7 288.5 L362.8 293.0 L358.3 299.7 L349.3 304.2 L347.1 309.3 L328.0 307.0 L325.2 295.3 L319.6 278.4 L311.2 263.9Z" fill="#DA3602"/>
<path d="M360.5 250.4 L367.3 256.0 L371.7 265.0 L372.9 277.3 L369.5 286.3 L362.8 286.3 L361.1 272.8Z" fill="#DA3602"/>
<g clip-path="url(#c36)"><path d="M363.0 265.6 L368.6 266.1 L369.7 275.1 L367.3 284.1 L363.3 283.5Z" fill="#EFA603"/><path d="M363.0 265.6 L368.6 266.1 L369.7 275.1 L367.3 284.1 L363.3 283.5Z" fill="none" stroke="#DA3602" stroke-width="2.0" stroke-linejoin="round"/></g>
<path d="M409.9 280.7 L423.3 276.2 L432.3 280.7 L436.8 290.8 L445.7 295.3 L457.0 293.0 L468.2 299.7 L471.0 311.5 L434.5 313.8 L412.1 316.0 L406.5 308.7 L398.7 304.2 L395.3 297.5 L400.9 295.3 L407.6 299.7 L409.9 290.8Z" fill="#DA3602"/>
<g clip-path="url(#c37)"><path d="M410.4 291.3 L425.6 292.1 L428.9 299.7 L436.8 304.2 L445.7 311.5 L432.3 312.6 L423.3 306.5 L414.3 299.7Z" fill="#EFA603"/></g>
<path d="M421.6 299.7 L424.4 300.9 L432.3 311.0 L428.9 311.5Z" fill="#B4CF3E"/>
<path d="M409.9 314.9 L428.9 311.2 L445.7 312.3 L446.9 314.5 L434.5 317.7 L412.1 317.7Z" fill="#EFA603"/>
<path d="M440.1 299.7 L451.3 296.9 L462.6 294.7 L463.1 296.2 L451.3 298.6 L441.3 301.4Z" fill="#EFA603"/>
<path d="M398.7 299.7 L400.9 298.6 L407.6 306.5 L405.4 307.6Z" fill="#EFA603"/>
<path d="M347.1 300.9 L352.7 299.7 L349.3 308.7 L347.6 308.7Z" fill="#EFA603"/>
</g>
</g>
<g shape-rendering="crispEdges">
<path d="M1346.0 577.0 L1351.0 583.0 L1351.5 592.0 L1347.0 600.5 L1343.0 600.0 L1347.0 590.0Z" fill="#1874CD"/>
<path d="M1336.0 604.0 L1341.0 601.0 L1343.0 603.0 L1337.0 607.0Z" fill="#1874CD"/>
<path d="M1462.0 376.0 L1470.0 373.0 L1476.0 371.0 L1477.0 373.5 L1470.0 376.5 L1464.0 379.5Z" fill="#CD0000"/>
<path d="M1482.0 366.0 L1492.0 362.5 L1500.0 360.0 L1500.5 362.5 L1490.0 366.5 L1484.0 369.0Z" fill="#CD0000"/>
<path d="M1452.0 385.0 L1458.0 381.0 L1460.0 383.0 L1454.0 388.0Z" fill="#CD0000"/>
<path d="M1505.0 357.0 L1514.0 355.0 L1515.0 357.0 L1506.0 359.5Z" fill="#CD0000"/>
<path d="M1012.0 753.0 L1020.0 760.0 L1030.0 762.0 L1030.0 764.0 L1019.0 762.5 L1011.0 756.0Z" fill="#CD0000"/>
<path d="M1064.0 735.0 L1067.0 742.0 L1064.0 750.0 L1062.0 744.0Z" fill="#CD0000"/>
<path d="M1192.5 796.0 L1195.0 800.0 L1196.0 806.0 L1193.5 803.0Z" fill="#CD0000"/>
<path d="M1203.0 822.0 L1207.0 829.0 L1209.0 835.0 L1206.5 832.0 L1203.0 826.0Z" fill="#CD0000"/>
<path d="M1236.0 768.0 L1239.0 770.0 L1241.0 778.0 L1239.0 777.0Z" fill="#CD0000"/>
<path d="M896.0 788.0 L904.0 780.0 L913.0 773.5 L914.5 775.0 L906.0 781.5 L898.0 789.5Z" fill="#CD0000"/>
<path d="M884.0 803.0 L889.0 795.0 L891.0 796.0 L886.0 804.0Z" fill="#CD0000"/>
<path d="M1446.0 440.0 L1450.0 438.0 L1452.0 441.0 L1448.0 443.0Z" fill="#CD0000"/>
<path d="M352.0 236.0 L349.0 239.0 L345.0 240.0 L345.0 237.0Z" fill="#CD0000"/>
<path d="M1059.0 266.0 L1066.0 260.0 L1075.0 256.5 L1076.0 258.5 L1068.0 263.0 L1060.0 268.0Z" fill="#CD0000"/>
<path d="M1027.0 284.0 L1033.0 283.0 L1034.0 288.0 L1029.0 290.0Z" fill="#CD0000"/>
<path d="M1160.0 300.0 L1166.0 300.0 L1166.0 305.0 L1160.0 305.0Z" fill="#CD0000"/>
<path d="M1170.0 311.0 L1180.0 311.0 L1180.0 317.5 L1170.0 317.5Z" fill="#CD0000"/>
<path d="M1130.0 318.0 L1135.0 317.0 L1136.0 323.0 L1131.0 324.0Z" fill="#CD0000"/>
<path d="M1124.0 326.0 L1128.0 325.0 L1128.0 331.0 L1124.0 331.0Z" fill="#CD0000"/>
<path d="M1118.0 336.0 L1122.0 335.0 L1122.0 341.0 L1118.0 341.0Z" fill="#CD0000"/>
<path d="M1106.0 328.0 L1110.0 324.0 L1112.0 326.0 L1108.0 331.0Z" fill="#CD0000"/>
<path d="M1057.0 733.0 L1064.0 733.0 L1062.0 745.0 L1058.0 747.0Z" fill="#CD0000"/>
<path d="M402.0 630.0 L422.0 629.0 L422.0 633.0 L404.0 634.0Z" fill="#1874CD"/>
<path d="M408.0 631.0 L418.0 631.0 L418.0 633.0 L408.0 633.0Z" fill="#B4CF3E"/>
<path d="M417.0 648.0 L421.0 648.0 L421.0 652.0 L417.0 652.0Z" fill="#B4CF3E"/>
<path d="M438.0 643.0 L444.0 645.0 L445.0 650.0 L440.0 648.0Z" fill="#CD0000"/>
<path d="M438.0 655.0 L444.0 662.0 L441.0 664.0 L437.0 658.0Z" fill="#EFA603"/>
<path d="M1189.0 876.0 L1192.0 876.0 L1192.0 879.0 L1189.0 879.0Z" fill="#EFA603"/>
<path d="M1205.0 877.0 L1215.0 875.0 L1216.0 879.0 L1206.0 880.0Z" fill="#B4CF3E"/>
<path d="M1213.0 874.0 L1228.0 871.0 L1229.0 875.0 L1215.0 878.0Z" fill="#EFA603"/>
<path d="M1233.0 868.0 L1240.0 863.0 L1242.0 866.0 L1236.0 871.0Z" fill="#EFA603"/>
<path d="M1242.0 860.0 L1247.0 855.0 L1249.0 857.0 L1245.0 862.0Z" fill="#CD0000"/>
</g>
<g fill="none" stroke="#000" stroke-width="3.5" stroke-linejoin="round" stroke-linecap="round">
<path d="M326.0 307.5 L328.6 306.2 L331.7 308.6 L334.4 309.7 L337.8 309.4 L341.2 309.4 L343.6 311.8 L347.6 311.1 L348.4 314.4 L349.4 317.9 L350.6 321.5 L353.3 322.0 L357.4 322.5 L358.6 325.4 L362.7 324.7 L365.2 324.2 L368.4 325.9 L371.7 324.3 L375.9 324.3 L378.8 322.6 L381.3 323.3 L385.0 322.5 L410.0 317.5 L435.0 314.5 L474.0 313.8"/>
<path d="M472.5 235.5 L472.5 305.0 L473.4 307.5 L473.2 311.6 L474.1 314.2 L477.2 315.3 L479.2 317.3 L481.7 319.7 L483.9 320.7 L484.2 323.9 L482.0 327.0 L481.4 329.9 L479.6 332.8 L477.4 335.4 L477.8 338.1 L477.3 341.1 L477.2 345.1 L474.6 347.9 L474.5 350.0 L473.5 353.1 L471.4 355.1 L469.4 357.8 L471.9 359.3 L474.0 362.5 L473.0 419.5"/>
<path d="M492.5 235.5 L492.5 261.0 L494.0 263.3 L495.5 265.8 L497.3 269.2 L499.3 270.4 L499.9 273.5 L502.0 276.0 L504.1 278.9 L507.6 279.9 L510.6 282.3 L512.8 284.5 L513.9 287.4 L516.9 288.4 L517.3 291.8 L519.6 294.3 L523.2 295.0 L525.9 296.8 L529.5 297.4 L529.9 301.2 L527.8 304.9 L529.1 308.2 L527.9 311.2 L527.3 314.6 L527.0 318.1 L525.3 321.7 L524.9 324.9 L526.5 327.0 L528.8 329.4 L530.6 326.6 L533.3 323.8 L535.7 322.4 L537.9 325.2 L541.2 326.3 L542.5 329.1 L543.5 331.4 L544.6 334.2 L546.0 337.8 L547.3 340.2 L547.8 343.3 L550.0 345.2 L552.2 347.6 L554.9 349.8 L557.9 352.2 L558.7 356.5 L561.5 354.3 L564.1 354.6 L567.4 353.5 L570.3 352.4 L574.2 352.9 L577.1 352.2 L580.0 353.2 L584.2 351.0 L587.7 351.0 L588.8 349.5 L590.9 347.5 L593.0 350.9 L595.4 352.2 L598.0 354.0"/>
<path d="M598.3 340.8 L745.8 340.8"/>
<path d="M598.3 340.8 L598.3 445.8 L640.6 445.8"/>
<path d="M320.0 419.5 L598.3 419.5"/>
<path d="M410.2 419.5 L410.2 498.4 L523.0 603.5"/>
<path d="M535.6 419.5 L535.6 576.0 L533.0 577.2 L529.8 577.5 L527.3 576.8 L524.9 576.7 L521.1 577.3 L521.6 581.2 L523.0 584.2 L522.2 587.4 L522.6 589.7 L522.8 593.8 L521.9 595.7 L522.2 599.6 L521.1 602.8 L521.7 605.7 L523.1 608.7 L527.1 611.0 L527.4 614.9 L529.8 617.3 L531.2 620.3 L532.9 622.8 L530.5 625.1 L528.1 626.9 L527.7 630.4 L525.7 632.6 L525.6 635.4 L524.3 638.4 L522.9 641.8 L522.0 644.9 L521.1 647.6 L520.9 650.8 L525.2 653.7 L524.6 657.0 L525.9 660.5 L525.4 663.1 L522.5 665.4 L520.0 668.0"/>
<path d="M535.6 551.0 L946.0 551.0"/>
<path d="M640.6 445.8 L640.6 700.5"/>
<path d="M640.6 445.8 L787.9 445.8"/>
<path d="M745.8 235.5 L745.8 445.8"/>
<path d="M745.8 315.8 L904.0 315.8"/>
<path d="M745.8 393.2 L825.0 393.0 L862.5 394.0 L866.3 394.5 L869.9 396.4 L872.9 399.0 L876.4 398.5 L878.8 397.2 L883.4 399.4 L886.4 399.4 L890.2 397.2 L893.0 398.1 L895.6 400.5 L899.6 400.1 L902.5 402.5"/>
<path d="M787.9 445.8 L787.9 551.0"/>
<path d="M787.9 472.1 L935.0 472.5"/>
<path d="M767.5 551.0 L767.5 682.4"/>
<path d="M691.0 682.4 L767.5 682.4"/>
<path d="M767.5 564.1 L831.5 564.1"/>
<path d="M831.5 564.1 L831.5 615.0 L834.6 617.2 L835.9 619.4 L840.3 620.2 L843.7 621.8 L846.6 623.2 L850.3 625.0 L852.9 625.7 L856.7 625.0 L859.5 628.5 L862.1 627.6 L866.1 628.6 L869.1 630.0 L871.9 631.5 L875.5 632.3 L878.1 634.5 L881.0 635.1 L883.4 635.9 L886.7 636.9 L890.3 637.5 L893.2 635.8 L897.2 634.8 L899.9 633.8 L903.0 634.4 L907.3 634.9 L910.1 637.6 L913.0 635.2 L915.7 635.5 L919.1 634.7 L921.8 633.9 L925.0 632.5 L928.4 631.5 L931.7 632.9 L935.3 632.4 L936.5 635.3 L939.7 635.7 L942.4 637.9 L944.2 638.8 L947.6 639.5 L951.1 640.0 L954.7 640.9 L957.5 641.0"/>
<path d="M891.0 235.5 L891.6 238.1 L890.7 241.8 L892.6 244.6 L892.1 247.5 L892.9 250.2 L893.0 253.1 L893.5 257.2 L893.5 260.0 L895.7 263.1 L897.5 266.5 L897.5 270.0 L900.0 292.5 L901.5 295.3 L902.1 297.7 L902.5 300.9 L901.6 304.2 L903.1 306.8 L903.8 310.4 L901.7 313.2 L900.9 315.5 L900.7 319.5 L899.6 322.3 L902.4 324.7 L904.9 327.0 L906.0 330.0 L906.0 380.0 L903.5 381.1 L903.2 383.5 L904.1 386.6 L904.1 389.8 L905.5 392.8 L905.7 395.8 L903.7 399.5 L903.0 402.9 L905.1 405.2 L905.9 409.1 L908.0 412.1 L908.2 415.7 L909.9 418.4 L909.5 421.2 L911.4 425.1 L912.9 427.6 L913.8 430.4 L916.7 432.7 L917.9 436.6 L919.2 440.3 L919.1 443.4 L919.7 446.7 L921.2 450.1 L920.5 453.0 L922.5 456.0 L935.0 475.0 L936.5 478.2 L937.8 481.6 L940.1 485.1 L941.7 486.9 L943.7 490.0 L944.3 492.0 L946.0 495.0"/>
<path d="M946.0 495.0 L946.0 564.1 L948.0 590.0 L947.5 640.0"/>
<path d="M957.5 641.0 L957.1 644.6 L957.7 646.7 L959.1 649.8 L957.1 653.0 L957.5 656.0 L958.5 685.0 L958.7 689.0 L958.9 691.4 L960.9 694.6 L962.8 697.3 L962.8 700.9 L963.8 703.3 L964.7 707.1 L966.1 710.1 L965.0 712.7 L965.5 716.0 L964.2 718.7 L964.6 721.9 L964.2 724.8 L962.6 728.1 L961.4 731.1 L961.3 733.8 L960.9 737.9 L959.2 741.3 L958.0 744.0"/>
<path d="M957.5 656.0 L1017.0 656.0"/>
<path d="M906.0 380.0 L1016.0 380.0"/>
<path d="M922.5 457.0 L1010.0 457.5 L1011.4 460.9 L1011.2 463.8 L1013.2 466.5 L1013.0 470.0"/>
<path d="M995.0 295.0 L994.2 297.8 L994.6 301.2 L995.1 304.4 L995.2 307.9 L991.4 308.9 L990.0 313.0 L987.8 314.6 L984.9 317.2 L983.8 320.1 L983.1 322.9 L981.3 325.5 L983.5 327.2 L982.7 330.8 L985.5 332.2 L984.8 335.5 L983.0 338.3 L982.5 342.3 L982.9 345.3 L983.9 348.2 L987.2 348.4 L989.2 351.3 L993.2 352.5 L995.1 354.6 L997.8 357.2 L1000.4 357.9 L1002.1 360.7 L1003.7 363.4 L1008.5 363.7 L1010.3 366.3 L1012.3 368.9 L1012.6 372.8 L1015.5 375.0 L1016.3 378.8 L1016.4 381.6 L1017.8 384.9 L1018.0 388.2 L1019.2 391.5 L1021.2 395.2 L1022.2 398.1 L1023.0 400.7 L1025.3 404.2 L1027.8 406.1 L1028.6 408.4 L1031.7 410.8 L1033.4 412.3 L1034.6 415.5 L1037.1 417.3 L1037.7 421.5 L1037.3 424.6 L1035.3 426.7 L1033.1 429.2 L1030.2 430.4 L1027.7 432.3 L1024.6 434.9 L1022.5 437.6 L1023.4 440.9 L1020.9 443.8 L1020.4 447.2 L1018.9 449.7 L1016.6 452.2 L1014.5 455.3 L1012.6 457.1 L1010.2 460.0 L1010.3 462.9 L1010.3 465.7 L1012.4 468.5 L1011.4 472.2 L1012.5 475.0 L1025.0 495.0 L1027.6 496.0 L1029.8 499.1 L1032.6 499.1 L1034.7 500.7 L1037.3 502.3 L1037.0 506.1 L1035.8 508.9 L1034.4 511.3 L1033.7 514.6 L1033.6 517.3 L1037.1 519.8 L1039.4 522.0 L1040.5 526.0 L1044.5 526.7 L1045.8 529.8 L1048.0 532.7 L1050.3 534.5 L1050.1 537.8 L1052.3 540.4 L1054.4 542.0 L1055.4 544.9 L1057.7 547.4 L1059.5 548.6 L1061.9 550.8 L1059.9 552.9 L1059.7 555.8 L1057.7 559.1 L1054.8 560.5 L1053.6 562.8 L1052.4 565.6 L1051.3 569.5 L1049.8 572.6 L1049.1 576.3 L1047.7 578.2 L1046.5 582.1 L1044.8 584.8 L1042.6 587.5 L1041.5 591.2 L1040.4 595.3 L1039.7 598.6 L1039.9 601.3 L1037.9 604.5 L1036.7 607.2 L1035.4 610.1 L1033.2 611.9 L1030.1 614.6 L1030.4 617.2 L1027.9 619.6 L1024.8 622.8 L1023.3 625.1 L1023.0 628.0 L1021.6 631.8 L1019.8 634.5 L1019.4 637.1 L1018.8 641.2 L1017.8 644.4 L1018.2 647.7 L1017.9 651.5 L1017.7 655.3 L1017.7 658.2 L1018.4 662.0 L1019.5 664.6 L1021.1 668.0 L1021.4 671.2 L1022.4 674.9 L1020.9 678.5 L1018.2 680.1 L1017.6 684.4 L1016.9 686.7 L1015.5 689.8 L1014.2 693.0 L1012.3 696.5 L1012.0 698.9 L1008.6 701.3 L1007.6 704.9 L1007.5 708.0 L1048.0 709.5 L1048.9 712.9 L1047.3 716.2 L1049.0 720.1 L1047.7 723.6 L1050.1 726.2 L1049.6 729.1 L1050.0 732.0"/>
<path d="M1037.5 302.5 L1040.8 304.7 L1043.5 304.8 L1046.8 305.9 L1050.4 305.7 L1052.6 306.8 L1055.9 308.6 L1058.5 309.8 L1061.6 310.8 L1065.0 310.3 L1068.5 313.5 L1071.1 314.2 L1074.7 313.9 L1077.4 314.6 L1079.6 318.3 L1082.8 318.4 L1085.5 319.9 L1085.1 323.4 L1086.6 327.1 L1087.0 330.4 L1089.3 332.5 L1091.0 335.5 L1092.5 337.5"/>
<path d="M1027.5 406.3 L1089.0 406.3"/>
<path d="M1094.0 426.0 L1094.0 500.0 L1093.4 502.7 L1092.7 506.2 L1092.3 509.5 L1089.2 512.0 L1089.9 515.3 L1089.8 518.0 L1087.5 520.4 L1086.2 522.8 L1083.9 524.6 L1085.0 529.0"/>
<path d="M1094.0 425.7 L1151.0 425.7 L1182.5 427.5"/>
<path d="M1151.0 425.7 L1151.5 496.0"/>
<path d="M1062.0 551.0 L1066.1 550.9 L1068.4 549.8 L1071.8 547.6 L1075.2 547.6 L1076.6 544.4 L1077.7 542.5 L1079.0 539.5 L1081.0 537.1 L1082.4 535.3 L1083.1 531.8 L1084.8 527.5 L1087.9 527.7 L1090.6 528.7 L1093.8 529.3 L1097.1 527.9 L1099.7 529.4 L1103.0 528.9 L1106.6 526.3 L1109.3 526.1 L1112.4 525.4 L1115.3 524.7 L1118.4 524.6 L1122.1 523.4 L1125.0 522.9 L1127.7 520.6 L1129.0 518.2 L1131.4 516.5 L1133.7 513.7 L1135.7 512.7 L1137.4 510.5 L1140.6 508.7 L1144.7 506.7 L1147.1 504.6 L1149.0 501.2 L1151.7 499.9 L1152.6 495.8 L1156.4 495.6 L1160.2 495.2 L1161.6 497.6 L1164.5 499.7 L1167.2 501.0 L1170.0 502.2 L1173.5 501.7 L1176.5 502.3 L1179.1 503.0 L1181.3 503.8 L1184.2 505.4 L1187.9 505.2 L1190.5 507.1 L1194.1 509.3 L1197.8 509.9 L1200.3 508.7 L1202.5 507.0 L1204.5 505.2 L1206.7 502.5 L1209.5 499.8 L1212.0 497.7 L1214.5 494.5 L1217.5 492.9 L1219.7 491.2 L1221.7 488.6 L1224.5 487.8 L1226.0 485.1 L1228.1 482.7 L1228.9 479.9 L1232.5 477.7 L1233.4 474.9 L1234.6 473.0 L1236.3 469.4 L1236.6 466.0 L1236.5 462.8 L1237.8 460.2 L1239.5 457.2 L1239.9 453.5 L1241.0 450.0"/>
<path d="M1241.0 421.0 L1241.0 479.8"/>
<path d="M1241.0 479.8 L1346.0 479.8"/>
<path d="M1257.3 415.0 L1257.3 419.6 L1350.0 419.6"/>
<path d="M1350.0 419.6 L1352.7 420.3 L1352.9 424.3 L1356.0 425.1 L1357.6 428.8 L1357.8 432.8 L1359.5 435.4 L1363.5 436.1 L1361.5 439.3 L1359.4 442.1 L1357.2 443.3 L1354.7 445.7 L1355.2 448.6 L1352.8 451.7 L1352.7 454.8 L1354.1 457.7 L1355.7 459.9 L1358.6 462.4 L1361.1 464.8 L1363.2 467.2 L1362.2 469.7 L1359.8 471.5 L1356.4 472.2 L1355.4 475.3 L1351.9 477.2 L1349.5 479.3 L1346.0 479.8"/>
<path d="M1363.2 436.5 L1382.4 446.6"/>
<path d="M1346.0 479.8 L1344.4 482.3 L1343.5 484.0 L1344.0 512.7 L1347.7 512.4 L1350.2 512.7 L1353.7 513.5 L1357.5 512.7"/>
<path d="M1336.0 524.0 L1338.8 524.0 L1342.0 523.6 L1345.0 522.4 L1347.9 521.6 L1351.3 522.4 L1354.5 521.0"/>
<path d="M1262.5 479.8 L1262.6 483.6 L1261.5 487.5 L1263.2 490.3 L1262.6 494.3 L1266.5 492.7 L1269.1 492.3 L1271.7 489.4 L1274.4 487.2 L1278.1 487.5 L1279.7 485.9 L1283.4 485.3 L1286.6 483.3 L1289.6 480.6 L1292.1 483.0 L1294.5 486.0 L1297.7 487.6 L1299.8 489.7 L1302.0 491.8 L1306.0 492.7 L1308.0 494.8 L1310.8 496.6 L1312.8 497.9 L1315.0 498.5 L1314.8 501.7 L1313.3 504.0 L1312.2 507.0 L1311.0 509.5 L1310.2 513.4 L1312.7 515.7 L1313.4 518.3 L1316.6 519.1 L1320.0 521.0"/>
<path d="M1300.0 489.5 L1298.0 492.2 L1295.1 493.4 L1292.4 495.3 L1290.3 497.6 L1286.3 498.8 L1283.6 499.3 L1279.6 499.6 L1277.7 502.1 L1276.6 505.6 L1275.5 507.8 L1271.6 507.3 L1269.0 510.3 L1265.3 509.7 L1262.4 511.8 L1262.8 516.1 L1260.3 517.3 L1259.2 520.2 L1256.2 522.4 L1256.4 525.0 L1253.4 526.9 L1252.3 530.3 L1249.4 532.6 L1247.7 534.7 L1244.7 537.7 L1242.0 538.1 L1238.9 539.4 L1236.4 540.4 L1233.2 541.0 L1230.1 542.9 L1227.6 543.6 L1223.8 543.5 L1220.8 542.7 L1217.9 545.4 L1215.5 543.9 L1213.1 541.0 L1211.0 539.5"/>
<path d="M1211.0 539.5 L1209.3 536.7 L1206.9 533.8 L1204.9 531.9 L1202.2 530.4 L1199.7 527.3 L1199.0 523.7 L1197.8 519.6 L1197.5 517.2 L1197.5 513.3 L1198.0 510.0"/>
<path d="M1211.0 539.5 L1207.5 542.5 L1187.5 557.5 L1185.2 560.1 L1181.0 560.1 L1177.5 561.5"/>
<path d="M1050.0 563.0 L1082.5 563.0 L1082.5 560.5 L1177.5 561.5 L1219.0 562.5 L1341.0 562.5"/>
<path d="M946.0 564.1 L1040.0 564.1 L1038.8 566.3 L1036.8 569.6 L1036.6 572.5 L1036.4 575.1 L1038.9 576.5 L1041.7 574.7 L1044.9 576.6 L1047.5 577.5"/>
<path d="M1037.5 603.7 L1161.0 603.7"/>
<path d="M1081.0 603.7 L1074.0 690.0 L1075.0 726.0"/>
<path d="M1134.0 603.7 L1142.6 660.7 L1144.1 663.8 L1144.3 666.5 L1146.8 669.1 L1146.8 672.0 L1145.9 674.8 L1148.1 677.2 L1146.4 680.5 L1147.6 684.0 L1147.1 687.8 L1145.9 691.6 L1145.8 694.3 L1145.4 697.7 L1144.1 701.9 L1147.3 704.0 L1145.3 706.7 L1147.7 709.9 L1148.5 712.9 L1148.5 716.0"/>
<path d="M1148.5 709.0 L1092.5 709.0 L1092.4 712.6 L1093.3 714.3 L1094.3 717.4 L1095.8 720.6 L1096.0 723.0"/>
<path d="M1148.5 716.0 L1204.2 721.7 L1205.3 724.8 L1206.6 727.5 L1209.2 727.2 L1212.1 726.6 L1212.4 723.6 L1211.5 721.1 L1212.1 717.5 L1212.6 715.2 L1215.3 715.2 L1219.0 716.2 L1222.0 716.5"/>
<path d="M1182.0 611.0 L1184.4 613.4 L1186.5 614.8 L1188.8 618.1 L1192.0 619.0 L1194.0 620.8 L1195.9 623.7 L1197.9 626.9 L1198.8 629.8 L1200.2 632.5 L1201.5 635.5 L1205.2 637.1 L1207.1 640.5 L1209.5 642.7 L1211.1 645.8 L1211.8 648.9 L1215.0 650.6 L1216.5 654.4 L1218.4 656.3 L1220.3 659.4 L1222.3 661.3 L1223.5 664.4 L1224.5 668.5 L1225.7 670.9 L1226.6 674.7 L1229.0 677.6 L1229.2 681.0"/>
<path d="M1161.0 603.7 L1182.0 611.0 L1184.1 608.7 L1187.4 608.4 L1190.2 607.0 L1191.7 603.4 L1194.7 602.6 L1197.3 602.0 L1231.0 599.3 L1233.3 602.1 L1234.9 603.4 L1236.6 607.0 L1237.6 609.4 L1260.3 610.0 L1283.0 634.0"/>
<path d="M1161.0 603.7 L1163.6 601.1 L1164.3 597.6 L1167.0 595.4 L1168.3 591.5 L1171.3 591.2 L1174.5 588.8 L1177.3 587.9 L1180.8 586.9 L1183.3 585.0 L1185.3 582.1 L1188.0 582.2 L1190.3 579.7 L1193.9 578.2 L1196.6 577.1 L1200.4 574.6 L1202.0 573.5 L1204.8 572.4 L1207.3 569.6 L1210.0 568.7 L1213.2 567.1 L1215.4 565.5 L1219.0 562.5"/>
<path d="M1392.5 340.5 L1392.7 343.5 L1392.1 346.9 L1390.8 350.7 L1391.4 353.4 L1390.3 356.1 L1390.5 359.9 L1393.2 363.6 L1393.4 366.7 L1392.0 370.0 L1392.8 373.6 L1393.6 376.9 L1394.3 380.2 L1394.1 383.1 L1393.8 387.1 L1394.1 389.9 L1395.8 393.2 L1394.9 397.3 L1394.0 400.2 L1393.5 403.7 L1392.4 405.7 L1391.6 409.7 L1391.8 413.0 L1388.7 414.9 L1389.6 417.9 L1388.9 421.6 L1389.3 424.5 L1390.3 427.0 L1388.6 430.6 L1387.4 433.2 L1387.3 437.2 L1388.5 440.9 L1385.6 442.5 L1383.4 444.6"/>
<path d="M1432.5 337.5 L1431.7 341.2 L1432.2 344.0 L1430.2 346.8 L1429.6 349.5 L1428.6 352.2 L1426.3 355.1 L1423.9 357.2 L1422.2 360.1 L1421.6 363.6 L1418.4 365.8 L1417.2 370.5 L1416.5 373.8 L1414.9 377.0 L1412.3 380.2 L1412.8 383.3 L1413.2 386.2 L1411.7 390.0 L1409.9 392.7 L1410.6 396.8 L1409.6 399.5"/>
<path d="M1394.5 400.2 L1435.8 401.2 L1437.5 398.3 L1440.6 397.4 L1444.4 397.8 L1446.9 396.1"/>
<path d="M1441.0 331.0 L1441.9 380.0 L1442.9 383.1 L1445.2 386.4 L1444.6 389.6 L1446.9 392.1"/>
<path d="M1389.4 418.0 L1434.8 418.3"/>
<path d="M1426.2 418.3 L1426.7 421.0 L1426.1 424.2 L1426.4 427.5 L1427.1 431.0 L1428.2 433.8 L1426.7 437.0"/>
<path d="M1434.8 418.3 L1435.4 421.8 L1437.0 424.6 L1434.7 426.5 L1434.1 429.4 L1436.0 433.0"/>
<path d="M351.0 235.5 L932.5 235.5 L931.4 231.7 L932.8 228.9 L932.5 225.6 L935.5 225.9 L938.5 226.5 L940.6 225.3 L940.3 229.1 L941.2 231.3 L941.1 235.3 L943.7 238.0 L943.7 240.5 L946.7 241.6 L949.7 242.8 L952.5 244.0 L956.5 243.1 L959.4 246.0 L962.5 246.2 L966.2 245.0 L969.4 245.6 L971.7 246.0 L974.7 244.8 L977.9 244.4 L981.6 246.4 L984.4 246.0 L988.0 247.8 L989.0 250.8 L991.0 253.0 L993.9 253.6 L996.9 256.0 L999.8 255.6 L1003.0 257.5 L1005.8 259.3 L1009.7 258.6 L1012.4 258.0 L1016.1 257.5 L1018.8 256.1 L1021.7 256.4 L1025.1 254.6 L1026.8 257.5 L1030.4 258.1 L1032.8 258.8 L1036.1 259.7 L1039.2 259.2 L1042.0 259.9 L1044.6 259.5 L1048.3 260.3 L1050.6 261.6 L1053.8 261.6 L1051.1 262.2 L1048.0 263.9 L1045.4 266.4 L1042.5 266.1 L1040.1 268.4 L1036.5 269.2 L1033.5 270.1 L1030.7 271.7 L1027.3 272.5 L1024.7 274.5 L1022.0 275.0 L1020.9 278.1 L1016.7 277.9 L1014.5 281.0 L1012.5 283.3 L1009.8 284.7 L1006.4 285.4 L1004.6 287.9 L1002.0 290.0 L999.9 292.4 L998.1 293.5 L994.5 294.8 L997.9 294.4 L1001.5 294.5 L1005.1 293.6 L1008.6 291.8 L1012.2 293.7 L1015.2 291.6 L1018.0 290.6 L1022.4 289.2 L1026.1 287.5 L1028.5 286.1 L1029.4 289.5 L1026.7 293.2 L1025.6 296.0 L1029.1 295.6 L1031.8 293.7 L1034.5 295.8 L1037.7 295.4 L1040.5 292.1 L1043.7 291.6 L1047.2 292.7 L1050.1 290.9 L1052.1 289.0 L1055.9 288.0 L1059.9 289.0 L1061.8 286.2 L1065.2 285.1 L1067.0 282.3 L1071.8 282.4 L1074.9 281.6 L1077.2 279.2 L1080.4 278.0 L1082.3 275.4 L1085.5 275.3 L1089.1 275.0 L1090.7 276.7 L1088.7 278.3 L1088.4 280.8 L1085.6 283.4 L1082.3 284.2 L1079.2 285.4 L1077.9 287.4 L1076.6 290.7 L1074.0 294.3 L1077.0 292.5 L1079.1 291.6 L1081.3 289.4 L1085.0 289.8 L1087.7 292.3 L1089.8 294.7 L1092.8 296.3 L1094.4 297.9 L1097.2 298.3 L1100.4 299.5 L1102.9 299.9 L1106.7 299.4 L1109.3 301.2 L1112.0 301.3 L1115.4 299.9 L1119.0 298.6 L1121.9 297.5 L1125.1 296.2 L1128.4 296.3 L1130.3 293.3 L1133.3 294.0 L1137.0 294.2 L1139.6 294.1 L1143.2 293.9 L1146.0 294.8 L1149.1 294.3 L1150.8 297.8 L1149.6 301.4 L1153.3 302.4 L1156.3 302.4 L1159.8 302.9 L1162.4 302.6 L1162.8 306.3 L1165.8 307.7 L1166.2 310.7 L1169.3 312.9 L1172.2 314.7 L1168.6 316.8 L1165.9 313.5 L1162.7 315.7 L1159.8 315.9 L1157.2 314.6 L1153.3 315.2 L1150.1 314.3 L1146.3 314.2 L1143.9 314.0 L1140.3 313.7 L1137.5 315.1 L1134.2 313.4 L1130.8 316.7 L1127.8 315.8 L1125.4 316.0 L1122.2 316.0 L1118.7 316.9 L1115.5 317.5 L1112.5 317.8 L1108.2 317.4 L1104.8 319.9 L1102.5 322.5 L1102.9 327.8 L1100.5 330.0 L1098.5 332.9 L1096.5 335.2 L1094.2 338.1 L1092.5 339.9 L1090.5 343.1 L1089.4 346.2 L1087.5 348.0 L1085.0 350.9 L1088.5 349.7 L1089.2 345.3 L1091.6 342.9 L1094.6 340.7 L1094.4 336.6 L1098.7 334.6 L1099.6 332.3 L1102.6 330.7 L1104.3 327.0 L1106.3 325.0 L1107.9 322.1 L1106.8 324.5 L1108.0 327.8 L1105.7 330.1 L1105.4 334.0 L1103.0 336.5 L1101.6 339.3 L1099.3 342.4 L1097.6 345.0 L1095.8 348.6 L1096.9 351.6 L1095.0 355.5 L1095.8 358.5 L1094.2 361.5 L1093.0 365.4 L1090.0 367.5 L1090.8 371.4 L1088.7 374.2 L1088.6 378.6 L1089.2 381.4 L1087.4 385.2 L1087.2 388.6 L1088.0 392.2 L1087.8 395.0 L1088.6 398.6 L1090.1 401.2 L1088.6 404.6 L1089.6 407.5 L1091.4 410.8 L1091.3 413.5 L1091.7 417.5 L1093.0 420.4 L1094.3 422.6 L1096.2 426.2 L1100.3 427.3 L1102.9 426.7 L1104.6 423.6 L1107.0 423.2 L1109.4 421.2 L1112.5 420.2 L1112.5 416.4 L1115.7 414.1 L1117.2 411.7 L1119.7 408.3 L1120.4 405.1 L1119.2 402.0 L1119.6 398.4 L1120.0 395.6 L1120.7 392.7 L1121.3 390.3 L1121.7 386.5 L1120.3 383.3 L1116.8 381.1 L1117.0 377.7 L1115.6 374.8 L1115.7 371.9 L1118.1 369.0 L1117.9 365.9 L1118.7 362.9 L1118.8 360.2 L1121.3 357.1 L1119.2 353.0 L1120.3 350.4 L1121.2 347.8 L1123.5 345.6 L1125.8 343.3 L1127.5 341.8 L1130.5 340.4 L1132.4 337.1 L1134.3 339.8 L1136.0 342.5 L1139.0 339.3 L1140.0 335.5 L1139.6 332.1 L1142.7 329.4 L1145.9 328.9 L1147.5 324.7 L1149.7 322.3 L1150.9 318.4 L1152.4 316.0 L1155.8 316.8 L1159.1 317.6 L1161.8 319.5 L1164.8 320.2 L1167.3 321.5 L1169.5 323.1 L1171.9 325.6 L1174.7 328.0 L1178.0 328.7 L1180.4 329.6 L1182.1 333.6 L1184.4 336.8 L1184.7 340.0 L1184.3 343.5 L1184.7 346.6 L1185.4 349.4 L1184.5 352.2 L1184.0 354.7 L1182.9 357.2 L1181.2 360.2 L1179.1 362.7 L1177.5 364.8 L1175.6 367.5 L1173.4 368.7 L1171.5 370.5 L1171.7 373.3 L1172.9 377.8 L1174.6 374.4 L1177.3 372.0 L1180.1 370.1 L1183.7 368.8 L1186.4 366.8 L1190.5 365.4 L1193.2 366.4 L1194.6 368.4 L1197.4 370.1 L1197.8 372.5 L1198.8 375.5 L1199.1 379.2 L1200.7 381.7 L1200.0 384.7 L1201.2 388.1 L1201.6 391.2 L1202.1 395.3 L1202.3 399.2 L1199.1 401.6 L1197.3 405.3 L1196.4 407.7 L1195.6 410.7 L1192.5 412.7 L1191.8 416.5 L1189.7 417.6 L1186.3 420.1 L1184.6 422.1 L1184.5 425.6 L1182.3 427.8 L1184.8 428.5 L1186.9 430.7 L1189.1 433.3 L1192.7 434.2 L1195.2 433.4 L1198.7 433.4 L1201.4 432.2 L1204.3 432.3 L1207.9 433.2 L1209.9 431.3 L1212.4 429.1 L1216.4 428.5 L1219.7 428.6 L1221.8 427.1 L1224.9 425.9 L1228.1 425.9 L1231.5 424.3 L1234.4 424.0 L1236.8 422.7 L1240.3 421.4 L1242.3 419.1 L1246.2 420.0 L1248.9 418.1 L1252.4 418.1 L1254.0 415.9 L1257.5 415.3 L1260.9 413.3 L1264.0 411.3 L1266.7 410.8 L1270.1 408.2 L1272.6 405.7 L1274.4 403.3 L1277.3 400.8 L1277.4 397.3 L1277.0 394.0 L1273.9 391.9 L1272.7 389.2 L1276.5 388.3 L1279.2 385.8 L1282.9 385.3 L1286.6 385.7 L1289.6 383.0 L1293.3 383.0 L1296.4 384.0 L1299.9 383.6 L1302.9 384.2 L1305.8 383.0 L1308.7 385.4 L1312.4 386.6 L1314.6 385.8 L1318.8 385.2 L1321.3 383.9 L1324.9 382.3 L1327.9 379.5 L1329.2 378.1 L1330.9 375.4 L1332.7 372.6 L1331.9 368.9 L1329.7 364.8 L1332.8 363.2 L1336.0 360.9 L1337.6 358.0 L1340.4 355.4 L1341.7 352.0 L1343.7 348.7 L1346.8 347.3 L1349.5 345.4 L1353.5 343.6 L1356.3 340.9 L1360.0 340.0 L1392.5 340.5 L1432.5 338.0 L1432.3 335.5 L1434.6 333.6 L1437.9 331.8 L1440.9 331.3 L1443.5 329.0 L1446.0 326.2 L1449.8 324.8 L1452.2 322.7 L1452.6 319.1 L1454.2 317.8 L1457.1 315.3 L1457.0 312.8 L1459.1 310.3 L1457.8 306.6 L1459.9 303.7 L1460.4 300.8 L1462.9 297.8 L1462.5 295.0 L1480.0 275.0 L1482.6 277.1 L1485.3 279.9 L1488.4 279.8 L1490.6 278.9 L1493.4 277.5 L1497.3 277.6 L1499.8 277.3 L1501.7 280.0 L1504.4 281.9 L1506.8 282.5 L1508.0 286.2 L1511.0 287.5 L1512.5 320.0 L1516.1 320.5 L1516.6 323.9 L1518.5 324.9 L1519.5 328.4 L1520.3 331.6 L1519.5 335.5 L1522.5 337.7 L1525.2 339.4 L1527.4 342.5 L1526.5 345.7 L1525.2 348.8 L1522.0 349.3 L1518.5 351.7 L1516.2 353.4 L1512.7 354.1 L1509.6 354.6 L1507.3 356.4 L1503.8 356.9 L1500.4 358.2 L1497.0 357.0 L1493.9 359.3 L1489.7 358.6 L1486.9 356.9 L1484.9 355.0 L1483.5 358.2 L1482.4 361.1 L1482.9 364.8 L1479.9 367.0 L1476.9 370.1 L1473.4 369.5 L1471.8 371.8 L1468.6 373.6 L1464.8 374.2 L1462.0 375.6 L1459.4 378.1 L1457.4 379.7 L1455.3 382.9 L1454.0 385.7 L1452.0 387.5 L1448.5 389.7 L1448.0 392.5 L1447.1 396.4 L1447.9 400.1 L1449.7 402.8 L1446.8 403.0 L1445.0 406.4 L1443.7 408.8 L1440.9 409.9 L1443.0 413.6 L1445.5 413.7 L1448.8 414.6 L1449.8 417.7 L1451.5 420.8 L1452.3 423.5 L1453.6 426.7 L1457.2 425.7 L1461.1 426.2 L1464.2 424.5 L1464.2 419.8 L1460.7 417.8 L1458.4 418.7 L1460.8 419.7 L1462.8 423.3 L1466.4 424.1 L1465.8 428.0 L1462.7 429.0 L1459.0 429.5 L1456.1 431.1 L1453.6 432.6 L1450.8 432.6 L1449.5 434.0 L1447.2 435.6 L1444.4 433.9 L1440.9 434.1 L1438.6 432.6 L1437.3 431.3 L1438.2 434.3 L1436.4 435.9 L1433.0 437.0 L1430.1 438.9 L1426.7 437.0 L1424.1 439.1 L1421.1 436.8 L1417.4 438.3 L1414.7 438.6 L1411.4 440.2 L1408.0 438.8 L1404.1 438.9 L1400.5 438.7 L1397.4 438.5 L1395.3 440.1 L1392.3 441.4 L1389.3 442.4 L1386.5 442.9 L1384.6 444.2 L1380.9 446.3 L1378.7 448.9 L1377.4 451.6 L1375.0 455.1 L1375.6 458.0 L1378.4 459.2 L1381.2 460.5 L1381.1 463.3 L1379.4 466.6 L1380.2 470.1 L1380.8 472.7 L1377.5 475.4 L1378.3 478.9 L1376.3 481.6 L1377.2 484.8 L1376.1 488.5 L1373.1 490.0 L1372.3 492.6 L1370.0 494.7 L1366.7 495.4 L1366.0 500.5 L1362.2 501.4 L1360.0 498.5 L1357.8 497.0 L1355.4 495.4 L1353.1 492.4 L1351.0 489.8 L1349.9 487.1 L1348.7 484.7 L1348.2 482.5 L1345.7 479.7 L1348.0 482.9 L1350.0 486.3 L1350.4 490.1 L1351.3 494.3 L1352.7 497.3 L1353.9 500.3 L1354.7 502.9 L1358.0 504.0 L1356.5 506.2 L1358.3 509.4 L1357.8 512.1 L1357.2 515.2 L1356.0 518.0 L1355.9 521.4 L1354.2 524.4 L1352.5 526.9 L1350.8 530.4 L1350.5 534.0 L1347.1 536.4 L1344.7 538.3 L1345.1 542.1 L1342.2 543.4 L1343.0 547.5 L1340.2 549.5 L1339.5 551.3 L1338.7 554.0 L1340.0 556.8 L1341.3 559.9 L1342.3 562.8 L1341.9 566.1 L1342.1 570.4 L1342.2 573.4 L1345.8 576.3 L1347.0 579.9 L1347.1 582.7 L1346.0 585.9 L1346.6 589.2 L1346.5 591.9 L1346.4 595.6 L1342.4 596.1 L1341.0 598.9 L1338.8 601.6 L1335.0 602.6 L1333.0 604.8 L1330.4 607.3 L1327.6 608.4 L1325.7 611.7 L1322.5 611.7 L1320.3 612.2 L1317.3 614.8 L1313.5 614.5 L1311.4 613.9 L1308.0 615.3 L1305.3 617.1 L1303.0 620.2 L1300.3 622.1 L1298.7 625.7 L1297.0 629.4 L1294.9 631.3 L1291.0 633.5 L1288.3 633.6 L1285.1 636.0 L1281.1 635.2 L1280.4 638.7 L1276.8 639.3 L1274.5 640.6 L1272.9 644.1 L1271.6 646.9 L1269.3 650.7 L1266.1 652.8 L1264.5 655.4 L1262.0 658.6 L1260.1 660.4 L1255.9 660.8 L1253.7 663.3 L1250.7 665.7 L1248.1 666.7 L1245.9 669.8 L1243.1 670.2 L1241.3 672.0 L1238.6 674.2 L1236.8 676.6 L1234.0 678.4 L1230.8 680.9 L1229.5 684.2 L1228.9 686.6 L1227.2 689.9 L1226.9 692.6 L1224.6 695.9 L1225.1 698.5 L1222.9 701.2 L1221.4 704.3 L1220.4 708.5 L1221.6 711.7 L1221.2 715.0 L1222.3 717.9 L1223.3 720.9 L1223.9 724.0 L1224.8 726.5 L1225.9 730.0 L1227.2 732.8 L1226.9 735.5 L1227.8 739.0 L1228.9 741.4 L1229.5 744.3 L1231.4 747.0 L1231.8 749.7 L1232.8 753.4 L1235.6 756.1 L1234.8 759.2 L1236.6 762.2 L1236.4 765.1 L1236.4 768.6 L1237.9 770.9 L1239.5 773.0 L1239.9 776.4 L1240.0 779.4 L1241.4 782.4 L1242.6 785.1 L1242.8 788.3 L1243.4 791.0 L1244.6 793.8 L1244.9 797.3 L1246.4 800.4 L1247.1 803.4 L1249.0 805.9 L1249.9 808.6 L1250.7 811.9 L1250.0 815.3 L1251.1 818.0 L1252.2 820.4 L1252.3 824.4 L1251.6 827.0 L1252.0 829.6 L1250.3 832.8 L1253.0 836.0 L1251.1 839.4 L1251.7 842.7 L1250.5 845.1 L1249.8 848.1 L1248.4 851.5 L1247.4 854.4 L1244.2 854.9 L1242.2 858.3 L1239.9 862.0 L1237.0 861.1 L1233.1 862.3 L1229.7 862.5 L1228.8 859.7 L1226.2 857.3 L1225.2 854.0 L1223.6 851.1 L1220.0 849.4 L1219.6 847.0 L1217.6 844.8 L1217.8 840.4 L1215.2 839.2 L1215.1 835.6 L1211.6 833.0 L1209.5 830.7 L1209.2 827.2 L1207.7 824.0 L1206.6 821.2 L1206.3 818.2 L1204.2 815.6 L1203.6 812.5 L1202.1 809.2 L1201.8 805.2 L1200.5 802.4 L1199.3 798.6 L1198.9 796.1 L1195.8 793.0 L1196.1 789.6 L1194.8 787.0 L1195.3 783.7 L1194.5 780.1 L1196.1 777.0 L1194.9 774.2 L1192.8 771.3 L1194.2 768.4 L1191.2 765.8 L1191.5 762.8 L1190.4 760.1 L1190.1 756.9 L1188.1 753.5 L1185.8 751.6 L1182.9 749.0 L1180.8 746.5 L1180.9 743.5 L1177.0 741.3 L1175.0 739.5 L1172.9 738.2 L1170.5 737.3 L1167.1 736.4 L1164.8 734.3 L1161.7 735.6 L1158.9 736.6 L1155.4 736.9 L1152.5 738.1 L1150.0 740.3 L1147.1 741.3 L1142.8 742.7 L1139.8 744.0 L1139.3 740.6 L1137.3 736.0 L1135.2 734.2 L1133.8 731.8 L1132.1 729.0 L1130.0 726.5 L1105.0 724.0 L1102.0 723.7 L1098.5 725.4 L1096.2 726.2 L1092.9 726.7 L1090.5 727.7 L1088.5 725.0 L1086.0 723.2 L1085.6 720.6 L1083.6 718.1 L1083.4 721.0 L1082.1 724.9 L1080.4 727.5 L1076.9 727.7 L1074.9 725.0 L1072.3 726.0 L1069.1 727.5 L1066.3 728.8 L1062.8 731.1 L1059.5 733.3 L1058.2 736.5 L1056.5 739.8 L1054.7 742.2 L1053.6 745.7 L1054.1 748.8 L1051.7 751.5 L1051.6 754.0 L1054.4 754.7 L1057.6 756.1 L1060.2 756.7 L1063.3 757.9 L1061.9 760.5 L1059.7 763.1 L1056.6 763.7 L1056.9 761.4 L1055.2 758.6 L1055.2 755.2 L1053.2 753.1 L1051.0 752.0 L1049.6 748.4 L1047.9 749.8 L1044.3 749.1 L1041.5 750.2 L1040.7 753.3 L1037.0 754.5 L1034.6 755.8 L1031.2 755.6 L1027.9 757.7 L1026.1 760.4 L1023.2 759.1 L1019.9 757.6 L1017.2 755.5 L1015.1 752.0 L1012.6 750.5 L1012.1 747.3 L1009.3 744.9 L1008.4 742.4 L1004.9 741.9 L1002.6 742.2 L999.8 740.6 L997.9 743.2 L996.6 746.1 L994.2 748.9 L990.9 748.7 L987.8 746.6 L984.8 746.2 L982.3 744.7 L980.5 742.3 L978.2 741.4 L974.9 741.6 L971.8 741.7 L968.3 743.5 L965.5 740.0 L962.3 742.3 L959.3 740.6 L956.2 741.2 L954.0 743.8 L951.5 743.1 L948.1 741.4 L944.3 741.0 L943.4 744.5 L941.4 746.7 L940.5 750.5 L937.5 752.2 L935.9 754.6 L933.7 757.5 L931.0 759.5 L930.2 763.9 L927.6 765.3 L924.8 766.9 L921.2 767.8 L918.4 769.8 L915.4 770.0 L912.4 771.2 L910.5 772.7 L906.8 772.9 L904.0 776.0 L902.4 779.2 L899.7 780.7 L897.3 781.9 L895.9 785.7 L893.4 787.5 L890.8 789.7 L889.1 792.5 L887.0 794.7 L884.8 797.1 L883.0 799.4 L883.3 802.4 L880.1 804.7 L880.1 807.4 L881.1 811.2 L881.6 815.1 L884.2 817.5 L883.5 821.0 L884.2 825.3 L885.8 828.2 L887.1 831.1 L889.0 834.3 L889.4 838.8 L892.2 841.2 L889.7 843.1 L889.1 845.4 L886.1 844.9 L882.3 843.9 L878.7 841.7 L875.5 841.4 L872.5 840.0 L850.0 831.5 L842.5 811.5 L842.6 808.2 L839.4 805.0 L839.1 802.3 L837.5 799.0 L822.5 776.5 L820.0 773.6 L819.3 770.1 L816.9 768.6 L815.1 764.7 L814.9 761.7 L812.7 759.2 L810.9 756.4 L810.1 753.3 L805.1 752.2 L803.6 749.6 L802.4 746.6 L800.2 744.1 L796.3 741.7 L793.4 743.6 L789.8 742.1 L785.9 743.4 L783.6 741.0 L780.2 741.2 L777.5 744.5 L776.3 746.5 L773.8 749.2 L772.7 752.1 L769.8 755.1 L767.2 757.8 L766.0 761.4 L764.3 763.6 L761.9 761.2 L758.7 759.6 L755.2 759.7 L753.1 758.0 L750.0 757.1 L747.3 755.2 L745.1 754.0 L743.1 750.7 L740.2 749.3 L737.3 747.8 L736.6 744.6 L734.9 741.7 L733.9 738.1 L732.6 735.0 L731.0 731.5 L729.4 729.5 L729.0 725.6 L726.3 723.0 L725.0 720.0 L705.0 702.5 L704.2 699.1 L699.9 699.1 L699.3 694.2 L697.6 691.4 L695.4 690.0 L692.5 687.5 L659.0 688.3 L658.1 690.9 L659.7 694.6 L657.2 697.9 L659.0 700.5 L599.0 700.5 L520.0 668.0 L471.0 669.0 L470.9 666.1 L469.0 663.2 L467.1 660.4 L465.5 657.6 L465.0 654.1 L463.9 651.9 L460.9 649.8 L459.9 647.3 L457.6 645.1 L454.6 643.1 L452.0 640.7 L450.0 637.0 L447.2 635.5 L445.5 633.3 L442.4 632.2 L440.0 631.0 L436.1 630.5 L433.6 628.3 L430.2 627.5 L427.5 624.9 L425.5 624.8 L421.7 624.6 L419.2 622.5 L417.4 619.8 L414.4 620.3 L411.2 619.4 L408.5 619.6 L405.6 617.6 L401.7 616.6 L398.9 616.4 L399.1 612.8 L397.6 610.1 L398.4 605.6 L397.0 603.3 L396.3 600.3 L393.5 597.8 L393.8 594.6 L390.8 592.1 L387.1 590.9 L386.6 588.4 L385.4 585.3 L382.7 582.3 L380.9 580.1 L377.6 577.8 L375.6 576.5 L374.5 572.1 L372.4 569.9 L370.5 567.1 L370.6 562.9 L368.6 559.6 L370.1 557.2 L370.2 555.0 L368.4 552.5 L365.9 549.4 L362.8 548.9 L361.5 545.5 L360.0 542.8 L359.5 539.0 L358.1 536.5 L354.2 534.0 L353.4 530.2 L350.5 528.7 L350.3 524.6 L348.2 522.2 L347.4 520.0 L345.0 517.5 L330.0 495.0 L330.6 491.7 L329.6 488.2 L329.5 484.9 L327.4 481.4 L328.7 478.4 L327.6 475.0 L326.4 471.9 L324.3 470.3 L322.4 467.5 L322.2 464.4 L320.5 461.8 L317.5 460.0 L324.0 437.5 L323.7 434.2 L321.2 431.9 L321.8 428.1 L321.5 425.6 L319.4 423.4 L319.3 419.6 L317.8 417.3 L319.2 412.8 L316.0 410.4 L316.0 407.2 L317.0 402.7 L315.0 400.0 L320.0 375.0 L324.0 352.5 L323.8 349.6 L324.8 346.2 L324.4 342.4 L325.0 338.8 L325.4 335.7 L326.4 332.9 L326.0 328.4 L325.8 325.2 L326.5 321.7 L328.9 318.9 L327.2 314.5 L326.4 312.4 L326.4 309.3 L325.6 306.0 L325.7 302.9 L326.2 299.2 L325.6 295.4 L325.4 292.6 L323.6 289.4 L322.8 286.1 L320.8 283.0 L321.3 279.8 L321.5 276.5 L319.1 273.4 L317.6 271.1 L317.0 267.4 L315.4 265.0 L313.5 262.7 L312.7 259.0 L313.8 255.9 L312.9 253.9 L310.9 250.6 L314.0 251.5 L316.1 252.3 L319.3 253.5 L321.6 253.5 L325.4 254.4 L328.7 256.7 L332.1 255.8 L335.0 256.1 L338.4 256.4 L341.5 257.4 L345.0 257.7 L347.2 259.8 L348.6 262.0 L349.2 265.0 L346.7 266.6 L346.8 269.8 L348.3 273.5 L347.4 277.7 L350.4 280.4 L350.6 284.3 L349.0 287.5 L352.3 284.7 L356.1 284.4 L357.9 281.1 L361.5 279.0 L361.5 275.3 L360.9 272.6 L360.0 270.0 L361.8 267.8 L360.7 264.5 L362.8 262.3 L360.5 259.0 L359.0 257.3 L359.5 253.9 L360.3 250.3 L361.5 246.8 L359.5 243.0 L356.9 241.7 L354.2 240.5 L351.3 236.9Z"/>
<path d="M1381.4 447.2 L1383.6 446.7 L1386.6 444.1 L1390.0 446.8 L1392.2 444.7 L1395.9 442.9 L1399.2 443.8 L1401.6 443.0 L1404.3 441.6 L1407.3 442.2 L1410.0 440.7 L1412.9 440.8 L1416.6 442.1 L1419.5 442.8 L1423.0 443.1 L1425.5 443.7 L1424.4 445.2 L1420.9 445.7 L1419.3 447.7 L1416.1 449.3 L1413.6 450.2 L1410.2 451.7 L1408.3 453.6 L1404.7 455.2 L1402.3 456.8 L1398.9 458.1 L1394.6 458.5 L1391.1 457.4 L1387.0 459.1 L1383.8 459.5 L1380.2 460.5 L1378.0 457.5 L1375.5 456.2 L1377.2 453.0 L1379.1 449.8Z"/>
</g>
<path d="M353.5 262.0 L355.5 268.0 L353.0 274.0 L355.5 279.0 L352.5 283.0" fill="none" stroke="#000" stroke-width="9" stroke-linejoin="round" stroke-linecap="round"/>
<path d="M347.5 266.0 L349.0 279.0" fill="none" stroke="#000" stroke-width="5" stroke-linejoin="round" stroke-linecap="round"/>
<path d="M355.0 249.0 L356.0 257.0" fill="none" stroke="#000" stroke-width="5" stroke-linejoin="round" stroke-linecap="round"/>
<path d="M346.0 245.5 L350.0 247.0" fill="none" stroke="#000" stroke-width="8" stroke-linejoin="round" stroke-linecap="round"/>
<path d="M323.0 287.0 L328.0 291.0 L324.0 296.0 L328.0 301.0 L327.0 306.0" fill="none" stroke="#000" stroke-width="5.5" stroke-linejoin="round" stroke-linecap="round"/>
<path d="M358.5 521.5 L362.0 526.0 L360.5 532.0 L364.0 537.0 L367.0 540.0" fill="none" stroke="#000" stroke-width="7" stroke-linejoin="round" stroke-linecap="round"/>
<path d="M1196.5 790.5 L1199.5 794.5" fill="none" stroke="#000" stroke-width="9" stroke-linejoin="round" stroke-linecap="round"/>
<path d="M1194.0 786.0 L1196.0 800.0" fill="none" stroke="#000" stroke-width="4" stroke-linejoin="round" stroke-linecap="round"/>
<path d="M1205.5 816.5 L1209.0 821.5" fill="none" stroke="#000" stroke-width="5.5" stroke-linejoin="round" stroke-linecap="round"/>
<path d="M1229.5 860.5 L1233.0 862.0" fill="none" stroke="#000" stroke-width="7" stroke-linejoin="round" stroke-linecap="round"/>
<path d="M1137.0 336.0 L1136.0 345.0" fill="none" stroke="#000" stroke-width="5" stroke-linejoin="round" stroke-linecap="round"/>
<path d="M1085.0 351.0 L1092.0 343.0 L1100.0 332.0 L1108.0 323.0" fill="none" stroke="#000" stroke-width="4.5" stroke-linejoin="round" stroke-linecap="round"/>
<path d="M1328.0 485.0 L1326.0 494.0 L1328.0 503.0 L1331.0 512.0 L1327.5 520.0 L1330.0 530.0 L1326.5 540.0 L1331.0 550.0 L1338.0 554.5" fill="none" stroke="#000" stroke-width="7" stroke-linejoin="round" stroke-linecap="round"/>
<path d="M1334.0 482.0 L1332.0 490.0 L1333.0 500.0" fill="none" stroke="#000" stroke-width="3.5" stroke-linejoin="round" stroke-linecap="round"/>
<path d="M1313.0 519.0 L1318.0 525.0 L1323.0 527.0 L1328.5 534.0" fill="none" stroke="#000" stroke-width="4.5" stroke-linejoin="round" stroke-linecap="round"/>
<path d="M1314.0 540.0 L1319.0 541.0 L1323.0 545.0 L1328.0 541.0" fill="none" stroke="#000" stroke-width="4.5" stroke-linejoin="round" stroke-linecap="round"/>
<path d="M1315.0 548.0 L1320.0 548.0 L1324.0 552.0 L1331.0 551.0" fill="none" stroke="#000" stroke-width="4.5" stroke-linejoin="round" stroke-linecap="round"/>
<path d="M1322.0 505.0 L1325.0 514.0" fill="none" stroke="#000" stroke-width="3" stroke-linejoin="round" stroke-linecap="round"/>
<path d="M1334.0 518.0 L1340.0 524.0 L1338.0 532.0" fill="none" stroke="#000" stroke-width="3" stroke-linejoin="round" stroke-linecap="round"/>
<path d="M1337.0 505.0 L1342.0 512.0" fill="none" stroke="#000" stroke-width="3" stroke-linejoin="round" stroke-linecap="round"/>
<path d="M1319.0 569.0 L1324.0 572.0 L1329.0 571.0 L1336.6 577.6" fill="none" stroke="#000" stroke-width="5" stroke-linejoin="round" stroke-linecap="round"/>
<path d="M1334.8 574.0 L1339.0 580.0 L1342.0 584.7" fill="none" stroke="#000" stroke-width="3.5" stroke-linejoin="round" stroke-linecap="round"/>
<path d="M1314.0 594.0 L1320.0 591.0 L1326.0 593.0 L1333.0 590.0 L1338.0 588.0" fill="none" stroke="#000" stroke-width="5.5" stroke-linejoin="round" stroke-linecap="round"/>
<path d="M1324.0 582.0 L1330.0 585.0" fill="none" stroke="#000" stroke-width="3.5" stroke-linejoin="round" stroke-linecap="round"/>
<path d="M1312.0 603.0 L1317.0 601.0 L1323.0 603.0 L1331.2 604.5" fill="none" stroke="#000" stroke-width="5" stroke-linejoin="round" stroke-linecap="round"/>
<path d="M1318.0 610.0 L1324.0 607.0" fill="none" stroke="#000" stroke-width="3" stroke-linejoin="round" stroke-linecap="round"/>
<path d="M1461.0 438.0 L1463.5 438.5" fill="none" stroke="#000" stroke-width="6.5" stroke-linejoin="round" stroke-linecap="round"/>
<path d="M1444.5 439.0 L1446.0 439.5" fill="none" stroke="#000" stroke-width="3" stroke-linejoin="round" stroke-linecap="round"/>
<path d="M939.0 746.0 L941.0 741.0 L944.5 743.0" fill="none" stroke="#000" stroke-width="4.5" stroke-linejoin="round" stroke-linecap="round"/>
<path d="M903.0 776.0 L909.0 772.0 L912.0 773.0" fill="none" stroke="#000" stroke-width="4" stroke-linejoin="round" stroke-linecap="round"/>
<path d="M886.0 795.0 L890.0 790.0" fill="none" stroke="#000" stroke-width="4" stroke-linejoin="round" stroke-linecap="round"/>
<path d="M879.5 806.0 L883.0 802.0" fill="none" stroke="#000" stroke-width="4" stroke-linejoin="round" stroke-linecap="round"/>
<path d="M1033.2 731.9 L1038.2 725.2 L1046.6 728.6 L1048.3 735.3 L1038.2 737.0 L1033.2 731.9" fill="none" stroke="#000" stroke-width="3.2" stroke-linejoin="round" stroke-linecap="round"/>
<path d="M1048.0 735.0 L1053.0 740.0" fill="none" stroke="#000" stroke-width="5" stroke-linejoin="round" stroke-linecap="round"/>
<path d="M1085.0 716.0 L1084.0 726.0" fill="none" stroke="#000" stroke-width="3.5" stroke-linejoin="round" stroke-linecap="round"/>
<path d="M1172.0 371.0 L1173.0 377.0" fill="none" stroke="#000" stroke-width="3" stroke-linejoin="round" stroke-linecap="round"/>
</svg>
<div class="lt">Relative pop. size</div>
<div class="sw" style="top:430px;height:25px;background:#4D4D4D"></div><div class="ll" style="top:431.70px;letter-spacing:0.2px">excl.-severe</div><div class="sw" style="top:455px;height:26px;background:#1874CD"></div><div class="ll" style="top:457.20px">0-10</div><div class="sw" style="top:481px;height:25px;background:#4B929B"></div><div class="ll" style="top:482.70px">10-20</div><div class="sw" style="top:506px;height:26px;background:#80B16C"></div><div class="ll" style="top:508.20px">20-30</div><div class="sw" style="top:532px;height:25px;background:#B4CF3E"></div><div class="ll" style="top:533.70px">30-40</div><div class="sw" style="top:557px;height:26px;background:#E6EC1A"></div><div class="ll" style="top:559.20px">40-50</div><div class="sw" style="top:583px;height:25px;background:#F7DC05"></div><div class="ll" style="top:584.70px">50-60</div><div class="sw" style="top:608px;height:26px;background:#EFA603"></div><div class="ll" style="top:610.20px">60-70</div><div class="sw" style="top:634px;height:25px;background:#E66B00"></div><div class="ll" style="top:635.70px">70-80</div><div class="sw" style="top:659px;height:26px;background:#DA3602"></div><div class="ll" style="top:661.20px">80-90</div><div class="sw" style="top:685px;height:25px;background:#CD0000"></div><div class="ll" style="top:686.70px">90-100</div>
</body></html>
